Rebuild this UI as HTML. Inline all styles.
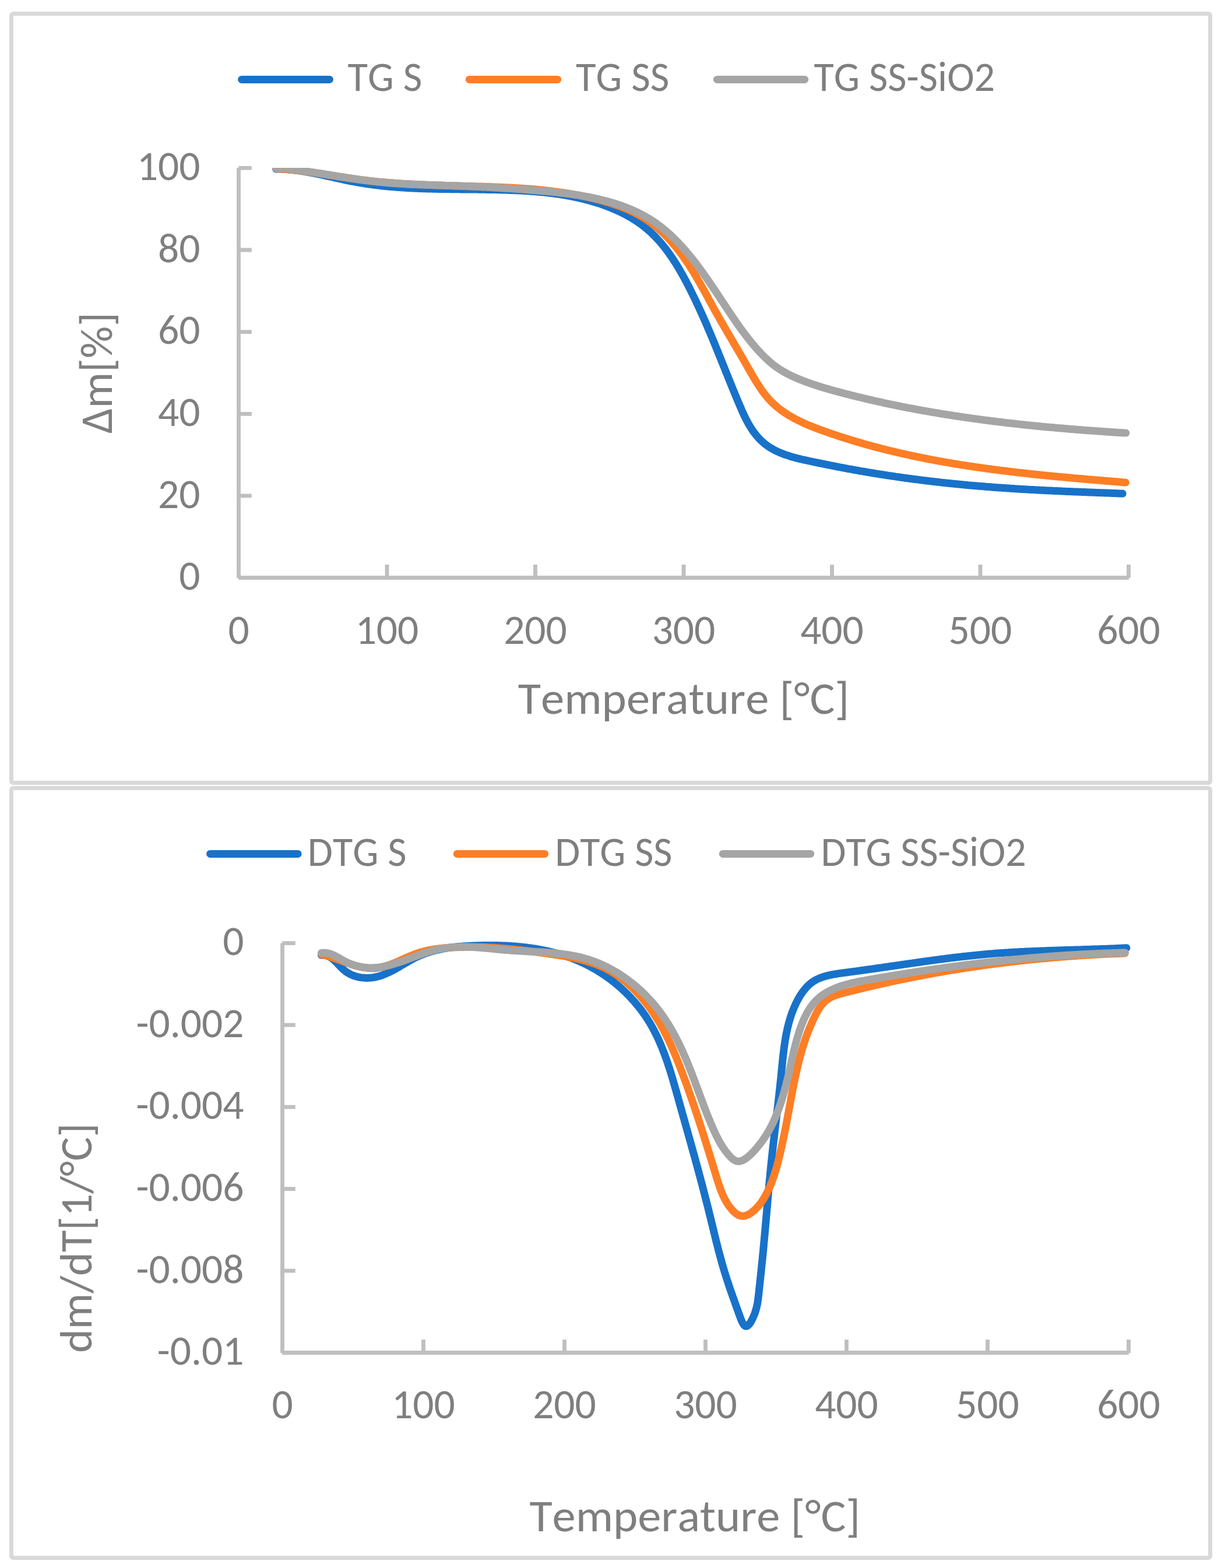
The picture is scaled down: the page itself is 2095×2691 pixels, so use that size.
<!DOCTYPE html>
<html><head><meta charset="utf-8"><title>TG / DTG</title>
<style>html,body{margin:0;padding:0;background:#fff;}svg{display:block;}</style>
</head><body>
<svg width="2095" height="2691" viewBox="0 0 2095 2691" font-family="Carlito, 'Liberation Sans', sans-serif" style="font-kerning:none;font-size-adjust:0.4775">
<defs>
<clipPath id="c1"><rect x="409.5" y="288.0" width="1547.0" height="703.1"/></clipPath>
<clipPath id="c2"><rect x="484.5" y="1588.6" width="1472.0" height="732.9000000000001"/></clipPath>
</defs>
<rect width="2095" height="2691" fill="#fff"/>
<rect x="19.5" y="23.5" width="2057" height="1320" rx="3" fill="none" stroke="#D9D9D9" stroke-width="7"/>
<rect x="19.5" y="1352.5" width="2057" height="1321" rx="3" fill="none" stroke="#D9D9D9" stroke-width="7"/>
<path d="M409.5,288.2 V991.9 M409.1,991.5 H1936.8 M409.1,288.4 H431.8 M409.1,429.0 H431.8 M409.1,569.6 H431.8 M409.1,710.3 H431.8 M409.1,850.9 H431.8 M664.0,991.9 V969.0 M918.5,991.9 V969.0 M1173.0,991.9 V969.0 M1427.5,991.9 V969.0 M1682.0,991.9 V969.0 M1936.5,991.9 V969.0" stroke="#BFBFBF" stroke-width="6.8" fill="none"/>
<path d="M484.5,1618.3999999999999 V2321.9 M484.1,2321.5 H1936.8 M484.1,1618.6 H506.8 M484.1,1759.2 H506.8 M484.1,1899.8 H506.8 M484.1,2040.3 H506.8 M484.1,2180.9 H506.8 M726.5,2321.9 V2299.0 M968.5,2321.9 V2299.0 M1210.5,2321.9 V2299.0 M1452.5,2321.9 V2299.0 M1694.5,2321.9 V2299.0 M1936.5,2321.9 V2299.0" stroke="#BFBFBF" stroke-width="6.8" fill="none"/>
<g fill="none" stroke-width="13" stroke-linecap="round" stroke-linejoin="round">
<path d="M473.4,289.9 L476.0,289.9 L478.5,290.0 L481.0,290.0 L483.5,290.1 L486.0,290.2 L488.5,290.4 L491.0,290.6 L493.5,290.7 L496.0,291.0 L498.5,291.2 L501.0,291.4 L503.4,291.7 L505.9,292.0 L508.4,292.3 L510.9,292.6 L513.3,293.0 L515.8,293.4 L518.3,293.7 L520.8,294.1 L523.2,294.5 L525.7,294.9 L528.1,295.4 L530.6,295.8 L533.1,296.3 L535.5,296.7 L538.0,297.2 L540.4,297.7 L542.9,298.2 L545.3,298.7 L547.8,299.2 L550.2,299.7 L552.7,300.2 L555.1,300.8 L557.5,301.3 L560.0,301.8 L562.4,302.4 L564.9,302.9 L567.3,303.4 L569.8,304.0 L572.2,304.5 L574.6,305.1 L577.1,305.6 L579.5,306.1 L582.0,306.7 L584.4,307.2 L586.9,307.7 L589.3,308.3 L591.8,308.8 L594.2,309.3 L596.7,309.8 L599.1,310.3 L601.5,310.8 L604.0,311.3 L606.4,311.7 L608.9,312.2 L611.4,312.6 L613.8,313.1 L616.3,313.5 L618.7,313.9 L621.2,314.3 L623.6,314.7 L626.1,315.1 L628.6,315.5 L631.0,315.8 L633.5,316.2 L636.0,316.5 L638.4,316.9 L640.9,317.2 L643.4,317.5 L645.9,317.8 L648.3,318.1 L650.8,318.4 L653.3,318.7 L655.8,319.0 L658.2,319.2 L660.7,319.5 L663.2,319.7 L665.7,320.0 L668.2,320.2 L670.6,320.4 L673.1,320.6 L675.6,320.8 L678.1,321.0 L680.6,321.2 L683.1,321.4 L685.6,321.6 L688.0,321.8 L690.5,321.9 L693.0,322.1 L695.5,322.3 L698.0,322.4 L700.5,322.5 L703.0,322.7 L705.5,322.8 L708.0,322.9 L710.5,323.0 L713.0,323.2 L715.5,323.3 L718.0,323.4 L720.5,323.5 L723.0,323.6 L725.5,323.7 L728.0,323.7 L730.5,323.8 L733.0,323.9 L735.5,324.0 L738.0,324.0 L740.5,324.1 L743.0,324.2 L745.5,324.2 L748.0,324.3 L750.5,324.3 L753.0,324.4 L755.5,324.4 L758.0,324.5 L760.5,324.5 L763.0,324.5 L765.5,324.6 L768.0,324.6 L770.5,324.6 L773.0,324.7 L775.5,324.7 L778.0,324.7 L780.6,324.8 L783.1,324.8 L785.6,324.8 L788.1,324.8 L790.6,324.9 L793.1,324.9 L795.6,324.9 L798.1,324.9 L800.6,325.0 L803.1,325.0 L805.6,325.0 L808.1,325.0 L810.6,325.0 L813.1,325.1 L815.6,325.1 L818.1,325.1 L820.7,325.2 L823.2,325.2 L825.7,325.2 L828.2,325.2 L830.7,325.3 L833.2,325.3 L835.7,325.4 L838.2,325.4 L840.7,325.4 L843.2,325.5 L845.7,325.5 L848.2,325.6 L850.7,325.6 L853.2,325.7 L855.7,325.7 L858.2,325.8 L860.7,325.9 L863.2,325.9 L865.7,326.0 L868.2,326.1 L870.7,326.2 L873.2,326.3 L875.7,326.4 L878.2,326.4 L880.6,326.5 L883.1,326.7 L885.6,326.8 L888.1,326.9 L890.6,327.0 L893.1,327.1 L895.6,327.3 L898.1,327.4 L900.6,327.5 L903.1,327.7 L905.5,327.8 L908.0,328.0 L910.5,328.2 L913.0,328.4 L915.5,328.6 L918.0,328.7 L920.4,329.0 L922.9,329.2 L925.4,329.4 L927.9,329.6 L930.3,329.9 L932.8,330.1 L935.3,330.4 L937.8,330.6 L940.2,330.9 L942.7,331.2 L945.2,331.5 L947.6,331.8 L950.1,332.1 L952.6,332.5 L955.0,332.8 L957.5,333.1 L960.0,333.5 L962.4,333.9 L964.9,334.3 L967.3,334.7 L969.8,335.1 L972.2,335.5 L974.7,336.0 L977.2,336.4 L979.6,336.9 L982.1,337.4 L984.5,337.9 L986.9,338.4 L989.4,338.9 L991.8,339.4 L994.3,340.0 L996.7,340.6 L999.2,341.1 L1001.6,341.7 L1004.0,342.4 L1006.5,343.0 L1008.9,343.6 L1011.3,344.3 L1013.8,345.0 L1016.2,345.7 L1018.6,346.4 L1021.0,347.1 L1023.4,347.9 L1025.8,348.6 L1028.3,349.4 L1030.7,350.2 L1033.0,351.0 L1035.4,351.9 L1037.8,352.7 L1040.2,353.6 L1042.5,354.5 L1044.9,355.4 L1047.3,356.3 L1049.6,357.3 L1051.9,358.3 L1054.2,359.2 L1056.5,360.3 L1058.8,361.3 L1061.1,362.3 L1063.4,363.4 L1065.7,364.5 L1067.9,365.6 L1070.2,366.7 L1072.4,367.9 L1074.6,369.1 L1076.8,370.3 L1079.0,371.5 L1081.1,372.7 L1083.3,374.0 L1085.4,375.3 L1087.5,376.6 L1089.6,377.9 L1091.7,379.3 L1093.8,380.7 L1095.8,382.1 L1097.8,383.5 L1099.8,384.9 L1101.8,386.4 L1103.8,387.9 L1105.7,389.4 L1107.6,391.0 L1109.5,392.6 L1111.4,394.1 L1113.3,395.8 L1115.1,397.4 L1116.9,399.1 L1118.7,400.8 L1120.5,402.5 L1122.3,404.2 L1124.0,406.0 L1125.7,407.8 L1127.4,409.6 L1129.1,411.4 L1130.7,413.2 L1132.4,415.1 L1134.0,417.0 L1135.6,418.9 L1137.2,420.8 L1138.7,422.7 L1140.3,424.7 L1141.8,426.6 L1143.3,428.6 L1144.8,430.6 L1146.3,432.6 L1147.8,434.6 L1149.2,436.7 L1150.6,438.7 L1152.1,440.8 L1153.5,442.9 L1154.9,445.0 L1156.2,447.1 L1157.6,449.2 L1159.0,451.3 L1160.3,453.5 L1161.6,455.6 L1162.9,457.8 L1164.2,459.9 L1165.5,462.1 L1166.8,464.3 L1168.0,466.5 L1169.3,468.7 L1170.5,470.9 L1171.8,473.1 L1173.0,475.3 L1174.2,477.5 L1175.4,479.8 L1176.6,482.0 L1177.8,484.2 L1178.9,486.5 L1180.1,488.7 L1181.3,490.9 L1182.4,493.2 L1183.6,495.4 L1184.7,497.7 L1185.8,499.9 L1186.9,502.2 L1188.0,504.4 L1189.1,506.7 L1190.2,508.9 L1191.3,511.2 L1192.4,513.4 L1193.5,515.7 L1194.6,518.0 L1195.6,520.2 L1196.7,522.5 L1197.8,524.7 L1198.8,527.0 L1199.8,529.3 L1200.9,531.5 L1201.9,533.8 L1202.9,536.0 L1204.0,538.3 L1205.0,540.6 L1206.0,542.8 L1207.0,545.1 L1208.0,547.4 L1209.0,549.7 L1210.0,551.9 L1211.0,554.2 L1212.0,556.5 L1213.0,558.7 L1213.9,561.0 L1214.9,563.3 L1215.9,565.6 L1216.9,567.9 L1217.8,570.1 L1218.8,572.4 L1219.7,574.7 L1220.7,577.0 L1221.7,579.3 L1222.6,581.6 L1223.6,583.9 L1224.5,586.1 L1225.4,588.4 L1226.4,590.7 L1227.3,593.0 L1228.3,595.3 L1229.2,597.6 L1230.1,599.9 L1231.1,602.2 L1232.0,604.5 L1233.0,606.8 L1233.9,609.1 L1234.8,611.4 L1235.7,613.7 L1236.7,616.0 L1237.6,618.3 L1238.5,620.6 L1239.5,622.9 L1240.4,625.3 L1241.3,627.6 L1242.3,629.9 L1243.2,632.2 L1244.1,634.5 L1245.0,636.8 L1246.0,639.2 L1246.9,641.5 L1247.9,643.8 L1248.8,646.1 L1249.7,648.4 L1250.7,650.8 L1251.6,653.1 L1252.5,655.4 L1253.5,657.8 L1254.4,660.1 L1255.4,662.4 L1256.3,664.8 L1257.3,667.1 L1258.2,669.4 L1259.2,671.8 L1260.2,674.1 L1261.1,676.5 L1262.1,678.8 L1263.1,681.1 L1264.0,683.5 L1265.0,685.8 L1266.0,688.2 L1267.0,690.5 L1268.0,692.9 L1269.0,695.2 L1270.0,697.6 L1271.0,699.9 L1272.0,702.3 L1273.0,704.6 L1274.1,707.0 L1275.1,709.3 L1276.2,711.6 L1277.3,713.9 L1278.4,716.2 L1279.5,718.4 L1280.7,720.7 L1281.8,722.9 L1283.0,725.1 L1284.2,727.3 L1285.5,729.5 L1286.8,731.6 L1288.1,733.7 L1289.4,735.8 L1290.8,737.9 L1292.2,739.9 L1293.6,741.9 L1295.1,743.9 L1296.6,745.8 L1298.1,747.7 L1299.7,749.5 L1301.3,751.4 L1303.0,753.1 L1304.7,754.9 L1306.4,756.5 L1308.2,758.2 L1310.0,759.8 L1311.8,761.3 L1313.7,762.8 L1315.6,764.3 L1317.6,765.7 L1319.6,767.0 L1321.6,768.3 L1323.7,769.5 L1325.8,770.7 L1327.9,771.9 L1330.0,773.0 L1332.2,774.1 L1334.4,775.1 L1336.7,776.1 L1338.9,777.1 L1341.2,778.0 L1343.5,778.9 L1345.9,779.8 L1348.2,780.6 L1350.6,781.4 L1353.0,782.2 L1355.4,783.0 L1357.8,783.7 L1360.2,784.4 L1362.7,785.1 L1365.1,785.7 L1367.6,786.4 L1370.0,787.0 L1372.5,787.6 L1375.0,788.2 L1377.5,788.8 L1380.0,789.3 L1382.5,789.9 L1385.0,790.4 L1387.5,791.0 L1390.0,791.5 L1392.5,792.0 L1395.0,792.6 L1397.5,793.1 L1400.0,793.6 L1402.5,794.1 L1404.9,794.6 L1407.4,795.2 L1409.9,795.7 L1412.4,796.2 L1414.9,796.7 L1417.3,797.2 L1419.8,797.7 L1422.3,798.2 L1424.7,798.7 L1427.2,799.1 L1429.7,799.6 L1432.1,800.1 L1434.6,800.6 L1437.0,801.1 L1439.5,801.5 L1441.9,802.0 L1444.4,802.5 L1446.8,802.9 L1449.3,803.4 L1451.7,803.8 L1454.2,804.3 L1456.6,804.8 L1459.1,805.2 L1461.5,805.6 L1464.0,806.1 L1466.4,806.5 L1468.8,807.0 L1471.3,807.4 L1473.7,807.8 L1476.2,808.3 L1478.6,808.7 L1481.1,809.1 L1483.5,809.5 L1485.9,809.9 L1488.4,810.4 L1490.8,810.8 L1493.3,811.2 L1495.7,811.6 L1498.2,812.0 L1500.6,812.4 L1503.1,812.8 L1505.5,813.2 L1508.0,813.6 L1510.4,814.0 L1512.9,814.3 L1515.3,814.7 L1517.8,815.1 L1520.2,815.5 L1522.7,815.9 L1525.1,816.2 L1527.6,816.6 L1530.1,817.0 L1532.5,817.3 L1535.0,817.7 L1537.4,818.1 L1539.9,818.4 L1542.4,818.8 L1544.8,819.1 L1547.3,819.5 L1549.8,819.8 L1552.3,820.2 L1554.7,820.5 L1557.2,820.8 L1559.7,821.2 L1562.2,821.5 L1564.6,821.8 L1567.1,822.2 L1569.6,822.5 L1572.1,822.8 L1574.5,823.1 L1577.0,823.4 L1579.5,823.8 L1582.0,824.1 L1584.5,824.4 L1587.0,824.7 L1589.4,825.0 L1591.9,825.3 L1594.4,825.6 L1596.9,825.9 L1599.4,826.2 L1601.9,826.5 L1604.4,826.8 L1606.9,827.0 L1609.4,827.3 L1611.8,827.6 L1614.3,827.9 L1616.8,828.2 L1619.3,828.4 L1621.8,828.7 L1624.3,829.0 L1626.8,829.2 L1629.3,829.5 L1631.8,829.8 L1634.3,830.0 L1636.8,830.3 L1639.3,830.5 L1641.8,830.8 L1644.3,831.0 L1646.8,831.3 L1649.3,831.5 L1651.7,831.7 L1654.2,832.0 L1656.7,832.2 L1659.2,832.4 L1661.7,832.7 L1664.2,832.9 L1666.7,833.1 L1669.2,833.4 L1671.7,833.6 L1674.2,833.8 L1676.7,834.0 L1679.2,834.2 L1681.7,834.4 L1684.2,834.6 L1686.7,834.8 L1689.2,835.0 L1691.7,835.2 L1694.2,835.4 L1696.7,835.6 L1699.2,835.8 L1701.7,836.0 L1704.1,836.2 L1706.6,836.4 L1709.1,836.6 L1711.6,836.7 L1714.1,836.9 L1716.6,837.1 L1719.1,837.3 L1721.6,837.5 L1724.1,837.6 L1726.6,837.8 L1729.1,838.0 L1731.6,838.1 L1734.1,838.3 L1736.6,838.4 L1739.0,838.6 L1741.5,838.8 L1744.0,838.9 L1746.5,839.1 L1749.0,839.2 L1751.5,839.4 L1754.0,839.5 L1756.5,839.7 L1759.0,839.8 L1761.5,839.9 L1764.0,840.1 L1766.5,840.2 L1768.9,840.4 L1771.4,840.5 L1773.9,840.6 L1776.4,840.8 L1778.9,840.9 L1781.4,841.0 L1783.9,841.2 L1786.4,841.3 L1788.9,841.4 L1791.4,841.5 L1793.9,841.7 L1796.4,841.8 L1798.8,841.9 L1801.3,842.0 L1803.8,842.1 L1806.3,842.3 L1808.8,842.4 L1811.3,842.5 L1813.8,842.6 L1816.3,842.7 L1818.8,842.8 L1821.3,842.9 L1823.8,843.1 L1826.3,843.2 L1828.8,843.3 L1831.3,843.4 L1833.7,843.5 L1836.2,843.6 L1838.7,843.7 L1841.2,843.8 L1843.7,843.9 L1846.2,844.0 L1848.7,844.1 L1851.2,844.2 L1853.7,844.3 L1856.2,844.4 L1858.7,844.5 L1861.2,844.6 L1863.7,844.7 L1866.2,844.8 L1868.7,844.9 L1871.2,845.0 L1873.7,845.1 L1876.2,845.2 L1878.7,845.3 L1881.2,845.4 L1883.7,845.5 L1886.2,845.6 L1888.7,845.7 L1891.2,845.8 L1893.7,845.8 L1896.2,845.9 L1898.7,846.0 L1901.2,846.1 L1903.7,846.2 L1906.2,846.3 L1908.7,846.4 L1911.2,846.5 L1913.7,846.6 L1916.2,846.7 L1918.7,846.8 L1921.2,846.9 L1923.7,847.0 L1926.2,847.1" stroke="#1872C9" clip-path="url(#c1)"/>
<path d="M473.5,289.2 L476.0,289.4 L478.5,289.5 L481.0,289.7 L483.5,289.9 L486.0,290.1 L488.4,290.3 L490.9,290.5 L493.4,290.7 L495.9,290.9 L498.4,291.2 L500.9,291.4 L503.4,291.7 L505.9,292.0 L508.3,292.3 L510.8,292.6 L513.3,292.9 L515.8,293.2 L518.3,293.5 L520.7,293.8 L523.2,294.1 L525.7,294.5 L528.2,294.8 L530.6,295.2 L533.1,295.5 L535.6,295.9 L538.1,296.2 L540.5,296.6 L543.0,297.0 L545.5,297.4 L547.9,297.7 L550.4,298.1 L552.9,298.5 L555.4,298.9 L557.8,299.3 L560.3,299.7 L562.8,300.1 L565.2,300.5 L567.7,300.9 L570.2,301.3 L572.6,301.6 L575.1,302.0 L577.6,302.4 L580.0,302.8 L582.5,303.2 L585.0,303.6 L587.4,304.0 L589.9,304.4 L592.4,304.7 L594.9,305.1 L597.3,305.5 L599.8,305.8 L602.3,306.2 L604.7,306.6 L607.2,306.9 L609.7,307.3 L612.1,307.6 L614.6,307.9 L617.1,308.3 L619.6,308.6 L622.0,308.9 L624.5,309.2 L627.0,309.5 L629.5,309.8 L632.0,310.1 L634.4,310.4 L636.9,310.6 L639.4,310.9 L641.9,311.2 L644.3,311.4 L646.8,311.7 L649.3,311.9 L651.8,312.2 L654.3,312.4 L656.8,312.6 L659.2,312.8 L661.7,313.0 L664.2,313.2 L666.7,313.5 L669.2,313.7 L671.7,313.8 L674.2,314.0 L676.7,314.2 L679.1,314.4 L681.6,314.6 L684.1,314.7 L686.6,314.9 L689.1,315.1 L691.6,315.2 L694.1,315.4 L696.6,315.5 L699.1,315.7 L701.6,315.8 L704.0,315.9 L706.5,316.1 L709.0,316.2 L711.5,316.3 L714.0,316.5 L716.5,316.6 L719.0,316.7 L721.5,316.8 L724.0,316.9 L726.5,317.0 L729.0,317.1 L731.5,317.2 L734.0,317.3 L736.5,317.4 L739.0,317.5 L741.5,317.6 L744.0,317.7 L746.5,317.8 L749.0,317.9 L751.5,318.0 L754.0,318.0 L756.5,318.1 L759.0,318.2 L761.5,318.3 L764.0,318.4 L766.5,318.4 L769.0,318.5 L771.5,318.6 L774.0,318.7 L776.5,318.7 L779.0,318.8 L781.5,318.9 L784.0,319.0 L786.5,319.0 L789.0,319.1 L791.5,319.2 L794.0,319.2 L796.5,319.3 L799.0,319.4 L801.5,319.4 L804.0,319.5 L806.5,319.6 L809.0,319.7 L811.5,319.7 L814.0,319.8 L816.5,319.9 L819.0,319.9 L821.5,320.0 L824.0,320.1 L826.5,320.2 L829.0,320.3 L831.5,320.3 L834.0,320.4 L836.5,320.5 L838.9,320.6 L841.4,320.7 L843.9,320.8 L846.4,320.9 L848.9,321.0 L851.4,321.1 L853.9,321.2 L856.4,321.3 L858.9,321.4 L861.4,321.5 L863.9,321.6 L866.4,321.7 L868.9,321.8 L871.4,321.9 L873.9,322.1 L876.4,322.2 L878.9,322.3 L881.4,322.5 L883.9,322.6 L886.4,322.8 L888.9,322.9 L891.4,323.1 L893.8,323.2 L896.3,323.4 L898.8,323.6 L901.3,323.7 L903.8,323.9 L906.3,324.1 L908.8,324.3 L911.3,324.5 L913.8,324.7 L916.2,324.9 L918.7,325.1 L921.2,325.4 L923.7,325.6 L926.2,325.8 L928.7,326.1 L931.1,326.3 L933.6,326.6 L936.1,326.8 L938.6,327.1 L941.1,327.4 L943.5,327.7 L946.0,328.0 L948.5,328.3 L951.0,328.6 L953.4,328.9 L955.9,329.2 L958.4,329.6 L960.9,329.9 L963.3,330.3 L965.8,330.6 L968.3,331.0 L970.7,331.4 L973.2,331.7 L975.7,332.1 L978.1,332.6 L980.6,333.0 L983.1,333.4 L985.5,333.8 L988.0,334.3 L990.5,334.7 L992.9,335.2 L995.4,335.7 L997.8,336.1 L1000.3,336.6 L1002.7,337.2 L1005.2,337.7 L1007.6,338.2 L1010.1,338.7 L1012.5,339.3 L1015.0,339.9 L1017.4,340.4 L1019.9,341.0 L1022.3,341.6 L1024.8,342.2 L1027.2,342.8 L1029.6,343.5 L1032.1,344.1 L1034.5,344.8 L1036.9,345.5 L1039.3,346.2 L1041.8,346.9 L1044.2,347.6 L1046.6,348.3 L1049.0,349.1 L1051.4,349.9 L1053.7,350.7 L1056.1,351.5 L1058.5,352.3 L1060.8,353.2 L1063.2,354.0 L1065.5,354.9 L1067.9,355.8 L1070.2,356.7 L1072.5,357.7 L1074.8,358.6 L1077.1,359.6 L1079.4,360.6 L1081.6,361.7 L1083.9,362.7 L1086.1,363.8 L1088.3,364.9 L1090.5,366.0 L1092.7,367.2 L1094.9,368.4 L1097.1,369.6 L1099.2,370.8 L1101.4,372.0 L1103.5,373.3 L1105.6,374.6 L1107.7,375.9 L1109.7,377.3 L1111.8,378.7 L1113.8,380.1 L1115.8,381.5 L1117.8,383.0 L1119.8,384.5 L1121.7,386.0 L1123.7,387.6 L1125.6,389.1 L1127.5,390.7 L1129.4,392.4 L1131.3,394.0 L1133.1,395.7 L1134.9,397.4 L1136.8,399.1 L1138.6,400.8 L1140.4,402.5 L1142.1,404.3 L1143.9,406.1 L1145.6,407.9 L1147.3,409.7 L1149.0,411.6 L1150.7,413.4 L1152.4,415.3 L1154.0,417.2 L1155.7,419.1 L1157.3,421.0 L1158.9,423.0 L1160.5,424.9 L1162.1,426.9 L1163.6,428.9 L1165.2,430.9 L1166.7,432.9 L1168.2,434.9 L1169.7,436.9 L1171.2,439.0 L1172.7,441.0 L1174.1,443.1 L1175.6,445.2 L1177.0,447.2 L1178.4,449.3 L1179.8,451.4 L1181.2,453.5 L1182.6,455.6 L1184.0,457.8 L1185.3,459.9 L1186.7,462.0 L1188.0,464.1 L1189.3,466.3 L1190.6,468.4 L1191.9,470.6 L1193.2,472.7 L1194.5,474.9 L1195.7,477.0 L1197.0,479.2 L1198.2,481.4 L1199.5,483.5 L1200.7,485.7 L1202.0,487.9 L1203.2,490.1 L1204.4,492.2 L1205.6,494.4 L1206.8,496.6 L1208.1,498.8 L1209.3,501.0 L1210.5,503.2 L1211.7,505.4 L1212.9,507.5 L1214.1,509.7 L1215.2,511.9 L1216.4,514.1 L1217.6,516.3 L1218.8,518.5 L1220.0,520.7 L1221.2,522.8 L1222.4,525.0 L1223.6,527.2 L1224.8,529.4 L1226.0,531.5 L1227.2,533.7 L1228.4,535.9 L1229.6,538.0 L1230.8,540.2 L1232.1,542.3 L1233.3,544.5 L1234.5,546.6 L1235.7,548.8 L1236.9,550.9 L1238.2,553.1 L1239.4,555.2 L1240.6,557.4 L1241.9,559.5 L1243.1,561.7 L1244.4,563.8 L1245.6,565.9 L1246.8,568.1 L1248.1,570.2 L1249.3,572.4 L1250.6,574.5 L1251.8,576.6 L1253.1,578.8 L1254.4,580.9 L1255.6,583.1 L1256.9,585.2 L1258.1,587.4 L1259.4,589.5 L1260.6,591.7 L1261.9,593.8 L1263.2,596.0 L1264.4,598.1 L1265.7,600.3 L1267.0,602.5 L1268.2,604.6 L1269.5,606.8 L1270.8,609.0 L1272.0,611.2 L1273.3,613.3 L1274.6,615.5 L1275.8,617.7 L1277.1,619.9 L1278.4,622.1 L1279.6,624.3 L1280.9,626.5 L1282.2,628.7 L1283.4,630.9 L1284.7,633.2 L1286.0,635.4 L1287.2,637.6 L1288.5,639.8 L1289.8,642.1 L1291.1,644.3 L1292.4,646.5 L1293.7,648.7 L1295.0,650.9 L1296.3,653.1 L1297.6,655.3 L1299.0,657.4 L1300.4,659.6 L1301.7,661.7 L1303.1,663.8 L1304.5,665.9 L1306.0,668.0 L1307.4,670.1 L1308.9,672.1 L1310.4,674.1 L1311.9,676.1 L1313.4,678.1 L1315.0,680.0 L1316.6,681.9 L1318.2,683.7 L1319.8,685.6 L1321.5,687.4 L1323.2,689.1 L1324.9,690.8 L1326.7,692.5 L1328.5,694.2 L1330.3,695.8 L1332.1,697.4 L1334.0,699.0 L1335.9,700.5 L1337.8,702.0 L1339.7,703.5 L1341.7,704.9 L1343.7,706.3 L1345.7,707.7 L1347.7,709.0 L1349.8,710.4 L1351.8,711.7 L1353.9,713.0 L1356.0,714.2 L1358.1,715.4 L1360.3,716.6 L1362.4,717.8 L1364.6,719.0 L1366.8,720.1 L1369.0,721.3 L1371.2,722.4 L1373.5,723.4 L1375.7,724.5 L1378.0,725.6 L1380.2,726.6 L1382.5,727.6 L1384.8,728.6 L1387.1,729.6 L1389.4,730.5 L1391.7,731.5 L1394.1,732.4 L1396.4,733.3 L1398.7,734.3 L1401.1,735.2 L1403.5,736.1 L1405.8,736.9 L1408.2,737.8 L1410.5,738.7 L1412.9,739.5 L1415.3,740.4 L1417.7,741.2 L1420.1,742.0 L1422.4,742.9 L1424.8,743.7 L1427.2,744.5 L1429.6,745.3 L1432.0,746.1 L1434.4,746.9 L1436.7,747.7 L1439.1,748.5 L1441.5,749.3 L1443.9,750.1 L1446.3,750.8 L1448.7,751.6 L1451.1,752.3 L1453.5,753.1 L1455.9,753.8 L1458.3,754.6 L1460.7,755.3 L1463.1,756.1 L1465.5,756.8 L1467.9,757.5 L1470.3,758.2 L1472.7,758.9 L1475.1,759.6 L1477.5,760.3 L1479.9,761.0 L1482.3,761.7 L1484.7,762.4 L1487.1,763.1 L1489.6,763.7 L1492.0,764.4 L1494.4,765.0 L1496.8,765.7 L1499.2,766.4 L1501.6,767.0 L1504.0,767.6 L1506.5,768.3 L1508.9,768.9 L1511.3,769.5 L1513.7,770.2 L1516.2,770.8 L1518.6,771.4 L1521.0,772.0 L1523.4,772.6 L1525.9,773.2 L1528.3,773.8 L1530.7,774.4 L1533.1,774.9 L1535.6,775.5 L1538.0,776.1 L1540.4,776.7 L1542.9,777.2 L1545.3,777.8 L1547.7,778.3 L1550.2,778.9 L1552.6,779.4 L1555.0,780.0 L1557.5,780.5 L1559.9,781.0 L1562.4,781.6 L1564.8,782.1 L1567.2,782.6 L1569.7,783.1 L1572.1,783.6 L1574.6,784.2 L1577.0,784.7 L1579.5,785.2 L1581.9,785.6 L1584.4,786.1 L1586.8,786.6 L1589.2,787.1 L1591.7,787.6 L1594.1,788.1 L1596.6,788.5 L1599.0,789.0 L1601.5,789.5 L1604.0,789.9 L1606.4,790.4 L1608.9,790.8 L1611.3,791.3 L1613.8,791.7 L1616.2,792.2 L1618.7,792.6 L1621.1,793.0 L1623.6,793.5 L1626.1,793.9 L1628.5,794.3 L1631.0,794.7 L1633.4,795.1 L1635.9,795.6 L1638.4,796.0 L1640.8,796.4 L1643.3,796.8 L1645.7,797.2 L1648.2,797.6 L1650.7,797.9 L1653.1,798.3 L1655.6,798.7 L1658.1,799.1 L1660.5,799.5 L1663.0,799.9 L1665.5,800.2 L1668.0,800.6 L1670.4,801.0 L1672.9,801.3 L1675.4,801.7 L1677.8,802.0 L1680.3,802.4 L1682.8,802.8 L1685.2,803.1 L1687.7,803.4 L1690.2,803.8 L1692.7,804.1 L1695.1,804.5 L1697.6,804.8 L1700.1,805.1 L1702.6,805.5 L1705.0,805.8 L1707.5,806.1 L1710.0,806.4 L1712.5,806.7 L1715.0,807.1 L1717.4,807.4 L1719.9,807.7 L1722.4,808.0 L1724.9,808.3 L1727.4,808.6 L1729.8,808.9 L1732.3,809.2 L1734.8,809.5 L1737.3,809.8 L1739.8,810.1 L1742.2,810.4 L1744.7,810.7 L1747.2,811.0 L1749.7,811.2 L1752.2,811.5 L1754.7,811.8 L1757.1,812.1 L1759.6,812.3 L1762.1,812.6 L1764.6,812.9 L1767.1,813.2 L1769.6,813.4 L1772.1,813.7 L1774.5,814.0 L1777.0,814.2 L1779.5,814.5 L1782.0,814.7 L1784.5,815.0 L1787.0,815.2 L1789.5,815.5 L1791.9,815.7 L1794.4,816.0 L1796.9,816.2 L1799.4,816.5 L1801.9,816.7 L1804.4,817.0 L1806.9,817.2 L1809.4,817.5 L1811.9,817.7 L1814.3,817.9 L1816.8,818.2 L1819.3,818.4 L1821.8,818.6 L1824.3,818.9 L1826.8,819.1 L1829.3,819.3 L1831.8,819.6 L1834.3,819.8 L1836.8,820.0 L1839.2,820.2 L1841.7,820.5 L1844.2,820.7 L1846.7,820.9 L1849.2,821.1 L1851.7,821.4 L1854.2,821.6 L1856.7,821.8 L1859.2,822.0 L1861.7,822.2 L1864.2,822.4 L1866.6,822.7 L1869.1,822.9 L1871.6,823.1 L1874.1,823.3 L1876.6,823.5 L1879.1,823.7 L1881.6,823.9 L1884.1,824.1 L1886.6,824.4 L1889.1,824.6 L1891.6,824.8 L1894.0,825.0 L1896.5,825.2 L1899.0,825.4 L1901.5,825.6 L1904.0,825.8 L1906.5,826.0 L1909.0,826.2 L1911.5,826.4 L1914.0,826.6 L1916.5,826.8 L1918.9,827.0 L1921.4,827.2 L1923.9,827.5 L1926.4,827.7 L1928.9,827.9 L1931.4,828.1" stroke="#FE7E25" clip-path="url(#c1)"/>
<path d="M473.2,288.0 L475.7,288.2 L478.2,288.4 L480.7,288.6 L483.2,288.8 L485.7,289.1 L488.2,289.3 L490.6,289.6 L493.1,289.9 L495.6,290.1 L498.1,290.4 L500.6,290.7 L503.1,291.0 L505.5,291.3 L508.0,291.6 L510.5,291.9 L513.0,292.3 L515.4,292.6 L517.9,292.9 L520.4,293.3 L522.8,293.6 L525.3,294.0 L527.8,294.3 L530.2,294.7 L532.7,295.1 L535.2,295.4 L537.6,295.8 L540.1,296.2 L542.5,296.6 L545.0,296.9 L547.4,297.3 L549.9,297.7 L552.3,298.1 L554.8,298.5 L557.3,298.9 L559.7,299.3 L562.2,299.7 L564.6,300.1 L567.1,300.5 L569.5,300.9 L572.0,301.3 L574.4,301.7 L576.9,302.1 L579.3,302.5 L581.8,302.9 L584.2,303.2 L586.7,303.6 L589.1,304.0 L591.6,304.4 L594.1,304.8 L596.5,305.2 L599.0,305.6 L601.4,305.9 L603.9,306.3 L606.3,306.7 L608.8,307.0 L611.3,307.4 L613.7,307.8 L616.2,308.1 L618.7,308.5 L621.1,308.8 L623.6,309.1 L626.1,309.5 L628.6,309.8 L631.0,310.1 L633.5,310.4 L636.0,310.7 L638.5,311.0 L640.9,311.3 L643.4,311.6 L645.9,311.9 L648.4,312.1 L650.9,312.4 L653.4,312.6 L655.9,312.9 L658.4,313.1 L660.9,313.3 L663.4,313.5 L665.9,313.7 L668.4,313.9 L670.9,314.1 L673.4,314.3 L675.9,314.5 L678.4,314.7 L680.9,314.9 L683.5,315.0 L686.0,315.2 L688.5,315.3 L691.0,315.5 L693.5,315.6 L696.0,315.8 L698.6,315.9 L701.1,316.0 L703.6,316.2 L706.1,316.3 L708.6,316.4 L711.1,316.5 L713.7,316.6 L716.2,316.7 L718.7,316.8 L721.2,316.9 L723.7,317.0 L726.3,317.1 L728.8,317.2 L731.3,317.3 L733.8,317.4 L736.3,317.5 L738.8,317.6 L741.3,317.6 L743.8,317.7 L746.3,317.8 L748.9,317.9 L751.4,318.0 L753.9,318.0 L756.4,318.1 L758.9,318.2 L761.4,318.3 L763.9,318.4 L766.3,318.4 L768.8,318.5 L771.3,318.6 L773.8,318.7 L776.3,318.8 L778.8,318.9 L781.3,318.9 L783.7,319.0 L786.2,319.1 L788.7,319.2 L791.1,319.3 L793.6,319.4 L796.1,319.5 L798.6,319.6 L801.0,319.7 L803.5,319.8 L805.9,319.9 L808.4,320.0 L810.9,320.1 L813.3,320.2 L815.8,320.3 L818.2,320.4 L820.7,320.5 L823.2,320.6 L825.6,320.8 L828.1,320.9 L830.5,321.0 L833.0,321.1 L835.4,321.2 L837.9,321.4 L840.3,321.5 L842.8,321.6 L845.3,321.7 L847.7,321.9 L850.2,322.0 L852.6,322.1 L855.1,322.3 L857.5,322.4 L860.0,322.6 L862.5,322.7 L864.9,322.9 L867.4,323.0 L869.9,323.2 L872.3,323.3 L874.8,323.5 L877.3,323.6 L879.7,323.8 L882.2,324.0 L884.7,324.1 L887.1,324.3 L889.6,324.5 L892.1,324.6 L894.6,324.8 L897.1,325.0 L899.6,325.2 L902.0,325.4 L904.5,325.6 L907.0,325.8 L909.5,326.0 L912.0,326.2 L914.5,326.4 L917.0,326.6 L919.5,326.8 L922.0,327.0 L924.6,327.2 L927.1,327.4 L929.6,327.6 L932.1,327.9 L934.6,328.1 L937.2,328.3 L939.7,328.6 L942.2,328.8 L944.8,329.1 L947.3,329.3 L949.8,329.6 L952.4,329.8 L954.9,330.1 L957.4,330.4 L960.0,330.7 L962.5,331.0 L965.0,331.3 L967.6,331.6 L970.1,331.9 L972.6,332.2 L975.2,332.6 L977.7,332.9 L980.2,333.2 L982.8,333.6 L985.3,334.0 L987.8,334.3 L990.3,334.7 L992.8,335.1 L995.3,335.5 L997.9,336.0 L1000.4,336.4 L1002.9,336.8 L1005.4,337.3 L1007.9,337.7 L1010.4,338.2 L1012.8,338.7 L1015.3,339.2 L1017.8,339.7 L1020.3,340.2 L1022.8,340.8 L1025.2,341.3 L1027.7,341.9 L1030.1,342.5 L1032.6,343.0 L1035.0,343.7 L1037.4,344.3 L1039.9,344.9 L1042.3,345.6 L1044.7,346.2 L1047.1,346.9 L1049.5,347.6 L1051.9,348.3 L1054.2,349.0 L1056.6,349.8 L1059.0,350.5 L1061.3,351.3 L1063.7,352.1 L1066.0,352.9 L1068.3,353.8 L1070.6,354.6 L1073.0,355.5 L1075.2,356.4 L1077.5,357.3 L1079.8,358.2 L1082.1,359.1 L1084.3,360.1 L1086.6,361.1 L1088.8,362.1 L1091.0,363.1 L1093.2,364.2 L1095.4,365.2 L1097.6,366.3 L1099.8,367.4 L1101.9,368.6 L1104.1,369.7 L1106.2,370.9 L1108.3,372.1 L1110.4,373.3 L1112.5,374.5 L1114.6,375.8 L1116.6,377.1 L1118.7,378.4 L1120.7,379.7 L1122.7,381.1 L1124.7,382.5 L1126.7,383.9 L1128.7,385.3 L1130.6,386.8 L1132.6,388.2 L1134.5,389.7 L1136.4,391.2 L1138.3,392.8 L1140.2,394.3 L1142.1,395.9 L1144.0,397.5 L1145.8,399.1 L1147.7,400.8 L1149.5,402.4 L1151.3,404.1 L1153.1,405.8 L1154.9,407.5 L1156.7,409.3 L1158.4,411.0 L1160.2,412.8 L1161.9,414.5 L1163.6,416.3 L1165.4,418.2 L1167.1,420.0 L1168.8,421.8 L1170.5,423.7 L1172.1,425.5 L1173.8,427.4 L1175.5,429.3 L1177.1,431.2 L1178.7,433.2 L1180.4,435.1 L1182.0,437.0 L1183.6,439.0 L1185.2,441.0 L1186.8,442.9 L1188.4,444.9 L1189.9,446.9 L1191.5,448.9 L1193.1,450.9 L1194.6,453.0 L1196.2,455.0 L1197.7,457.0 L1199.2,459.1 L1200.7,461.1 L1202.3,463.2 L1203.8,465.3 L1205.3,467.4 L1206.8,469.4 L1208.2,471.5 L1209.7,473.6 L1211.2,475.7 L1212.7,477.8 L1214.1,479.9 L1215.6,482.0 L1217.0,484.1 L1218.5,486.2 L1219.9,488.4 L1221.4,490.5 L1222.8,492.6 L1224.2,494.7 L1225.7,496.8 L1227.1,498.9 L1228.5,501.1 L1229.9,503.2 L1231.3,505.3 L1232.7,507.4 L1234.1,509.5 L1235.5,511.7 L1236.9,513.8 L1238.3,515.9 L1239.7,518.0 L1241.1,520.1 L1242.5,522.2 L1243.9,524.3 L1245.3,526.4 L1246.6,528.5 L1248.0,530.5 L1249.4,532.6 L1250.8,534.7 L1252.2,536.7 L1253.5,538.8 L1254.9,540.8 L1256.3,542.9 L1257.7,544.9 L1259.1,547.0 L1260.5,549.0 L1261.9,551.0 L1263.2,553.0 L1264.6,555.0 L1266.0,557.0 L1267.5,559.0 L1268.9,561.0 L1270.3,563.0 L1271.7,565.0 L1273.2,567.0 L1274.6,568.9 L1276.1,570.9 L1277.5,572.8 L1279.0,574.8 L1280.5,576.7 L1282.0,578.7 L1283.5,580.6 L1285.0,582.5 L1286.5,584.4 L1288.1,586.3 L1289.6,588.2 L1291.2,590.1 L1292.8,592.0 L1294.4,593.9 L1296.0,595.8 L1297.6,597.6 L1299.3,599.5 L1301.0,601.4 L1302.6,603.2 L1304.4,605.0 L1306.1,606.9 L1307.8,608.7 L1309.6,610.5 L1311.3,612.2 L1313.1,614.0 L1315.0,615.7 L1316.8,617.4 L1318.7,619.1 L1320.5,620.8 L1322.4,622.4 L1324.4,624.0 L1326.3,625.6 L1328.3,627.1 L1330.3,628.6 L1332.3,630.1 L1334.3,631.5 L1336.4,632.9 L1338.5,634.2 L1340.6,635.5 L1342.7,636.8 L1344.8,638.1 L1347.0,639.3 L1349.1,640.5 L1351.3,641.6 L1353.5,642.8 L1355.8,643.9 L1358.0,645.0 L1360.2,646.0 L1362.5,647.0 L1364.8,648.1 L1367.1,649.0 L1369.4,650.0 L1371.7,651.0 L1374.0,651.9 L1376.3,652.8 L1378.6,653.7 L1381.0,654.6 L1383.3,655.5 L1385.6,656.3 L1388.0,657.2 L1390.4,658.0 L1392.7,658.8 L1395.1,659.6 L1397.4,660.4 L1399.8,661.2 L1402.2,662.0 L1404.6,662.7 L1407.0,663.5 L1409.4,664.2 L1411.8,664.9 L1414.1,665.7 L1416.5,666.4 L1418.9,667.1 L1421.4,667.8 L1423.8,668.5 L1426.2,669.2 L1428.6,669.8 L1431.0,670.5 L1433.4,671.2 L1435.8,671.8 L1438.2,672.5 L1440.7,673.1 L1443.1,673.8 L1445.5,674.4 L1447.9,675.0 L1450.4,675.7 L1452.8,676.3 L1455.2,676.9 L1457.6,677.5 L1460.1,678.1 L1462.5,678.7 L1464.9,679.4 L1467.3,680.0 L1469.8,680.6 L1472.2,681.2 L1474.6,681.7 L1477.1,682.3 L1479.5,682.9 L1481.9,683.5 L1484.4,684.1 L1486.8,684.7 L1489.2,685.2 L1491.7,685.8 L1494.1,686.3 L1496.5,686.9 L1499.0,687.5 L1501.4,688.0 L1503.8,688.6 L1506.3,689.1 L1508.7,689.7 L1511.2,690.2 L1513.6,690.7 L1516.0,691.3 L1518.5,691.8 L1520.9,692.3 L1523.4,692.8 L1525.8,693.4 L1528.3,693.9 L1530.7,694.4 L1533.1,694.9 L1535.6,695.4 L1538.0,695.9 L1540.5,696.4 L1542.9,696.9 L1545.4,697.4 L1547.8,697.9 L1550.3,698.3 L1552.7,698.8 L1555.2,699.3 L1557.6,699.8 L1560.1,700.3 L1562.5,700.7 L1565.0,701.2 L1567.4,701.7 L1569.9,702.1 L1572.3,702.6 L1574.8,703.0 L1577.2,703.5 L1579.7,703.9 L1582.1,704.4 L1584.6,704.8 L1587.1,705.2 L1589.5,705.7 L1592.0,706.1 L1594.4,706.5 L1596.9,707.0 L1599.3,707.4 L1601.8,707.8 L1604.3,708.2 L1606.7,708.6 L1609.2,709.0 L1611.6,709.5 L1614.1,709.9 L1616.6,710.3 L1619.0,710.7 L1621.5,711.1 L1624.0,711.5 L1626.4,711.8 L1628.9,712.2 L1631.3,712.6 L1633.8,713.0 L1636.3,713.4 L1638.7,713.8 L1641.2,714.1 L1643.7,714.5 L1646.1,714.9 L1648.6,715.2 L1651.1,715.6 L1653.5,716.0 L1656.0,716.3 L1658.5,716.7 L1661.0,717.0 L1663.4,717.4 L1665.9,717.7 L1668.4,718.1 L1670.8,718.4 L1673.3,718.8 L1675.8,719.1 L1678.2,719.4 L1680.7,719.8 L1683.2,720.1 L1685.7,720.4 L1688.1,720.8 L1690.6,721.1 L1693.1,721.4 L1695.6,721.7 L1698.0,722.0 L1700.5,722.4 L1703.0,722.7 L1705.5,723.0 L1707.9,723.3 L1710.4,723.6 L1712.9,723.9 L1715.4,724.2 L1717.9,724.5 L1720.3,724.8 L1722.8,725.1 L1725.3,725.4 L1727.8,725.7 L1730.2,725.9 L1732.7,726.2 L1735.2,726.5 L1737.7,726.8 L1740.2,727.1 L1742.6,727.3 L1745.1,727.6 L1747.6,727.9 L1750.1,728.2 L1752.6,728.4 L1755.1,728.7 L1757.5,729.0 L1760.0,729.2 L1762.5,729.5 L1765.0,729.7 L1767.5,730.0 L1770.0,730.2 L1772.4,730.5 L1774.9,730.7 L1777.4,731.0 L1779.9,731.2 L1782.4,731.5 L1784.9,731.7 L1787.4,732.0 L1789.8,732.2 L1792.3,732.4 L1794.8,732.7 L1797.3,732.9 L1799.8,733.1 L1802.3,733.4 L1804.8,733.6 L1807.2,733.8 L1809.7,734.0 L1812.2,734.3 L1814.7,734.5 L1817.2,734.7 L1819.7,734.9 L1822.2,735.1 L1824.7,735.3 L1827.2,735.6 L1829.6,735.8 L1832.1,736.0 L1834.6,736.2 L1837.1,736.4 L1839.6,736.6 L1842.1,736.8 L1844.6,737.0 L1847.1,737.2 L1849.6,737.4 L1852.1,737.6 L1854.6,737.8 L1857.0,738.0 L1859.5,738.2 L1862.0,738.4 L1864.5,738.5 L1867.0,738.7 L1869.5,738.9 L1872.0,739.1 L1874.5,739.3 L1877.0,739.5 L1879.5,739.6 L1882.0,739.8 L1884.5,740.0 L1887.0,740.2 L1889.4,740.3 L1891.9,740.5 L1894.4,740.7 L1896.9,740.9 L1899.4,741.0 L1901.9,741.2 L1904.4,741.4 L1906.9,741.5 L1909.4,741.7 L1911.9,741.9 L1914.4,742.0 L1916.9,742.2 L1919.4,742.4 L1921.9,742.5 L1924.4,742.7 L1926.9,742.8 L1929.4,743.0 L1931.8,743.1" stroke="#A5A5A5" clip-path="url(#c1)"/>
<path d="M551.4,1639.3 L554.1,1639.2 L556.7,1639.4 L559.2,1639.8 L561.5,1640.5 L563.7,1641.3 L565.9,1642.4 L567.9,1643.6 L569.9,1645.0 L571.8,1646.5 L573.6,1648.2 L575.4,1649.9 L577.2,1651.7 L579.0,1653.5 L580.7,1655.4 L582.5,1657.2 L584.2,1659.1 L586.0,1660.9 L587.9,1662.7 L589.8,1664.4 L591.7,1666.0 L593.7,1667.6 L595.8,1669.0 L597.9,1670.3 L600.1,1671.5 L602.3,1672.6 L604.6,1673.6 L606.9,1674.5 L609.3,1675.3 L611.7,1676.0 L614.1,1676.6 L616.5,1677.1 L619.0,1677.6 L621.5,1677.9 L623.9,1678.1 L626.4,1678.3 L628.9,1678.4 L631.4,1678.3 L633.9,1678.2 L636.4,1678.0 L638.9,1677.8 L641.3,1677.4 L643.8,1677.0 L646.2,1676.4 L648.5,1675.8 L650.9,1675.2 L653.3,1674.5 L655.6,1673.7 L657.9,1672.8 L660.2,1671.9 L662.5,1670.9 L664.8,1669.9 L667.0,1668.9 L669.3,1667.8 L671.5,1666.7 L673.8,1665.5 L676.0,1664.3 L678.2,1663.1 L680.4,1661.8 L682.6,1660.6 L684.8,1659.3 L687.0,1658.0 L689.2,1656.7 L691.4,1655.4 L693.6,1654.2 L695.8,1652.9 L698.0,1651.6 L700.2,1650.3 L702.4,1649.1 L704.6,1647.8 L706.9,1646.6 L709.1,1645.4 L711.3,1644.3 L713.6,1643.1 L715.8,1642.1 L718.1,1641.0 L720.4,1640.0 L722.7,1639.0 L725.0,1638.1 L727.3,1637.2 L729.6,1636.4 L731.9,1635.5 L734.3,1634.8 L736.6,1634.0 L739.0,1633.3 L741.3,1632.6 L743.7,1631.9 L746.1,1631.3 L748.5,1630.7 L750.9,1630.2 L753.3,1629.6 L755.7,1629.1 L758.1,1628.6 L760.5,1628.2 L763.0,1627.7 L765.4,1627.3 L767.9,1626.9 L770.3,1626.6 L772.8,1626.2 L775.2,1625.9 L777.7,1625.6 L780.2,1625.3 L782.7,1625.1 L785.1,1624.8 L787.6,1624.6 L790.1,1624.4 L792.6,1624.2 L795.1,1624.0 L797.6,1623.8 L800.1,1623.7 L802.6,1623.5 L805.1,1623.4 L807.6,1623.3 L810.2,1623.2 L812.7,1623.1 L815.2,1623.0 L817.7,1622.9 L820.2,1622.8 L822.7,1622.7 L825.3,1622.7 L827.8,1622.6 L830.3,1622.6 L832.8,1622.5 L835.3,1622.5 L837.9,1622.5 L840.4,1622.5 L842.9,1622.5 L845.4,1622.5 L848.0,1622.5 L850.5,1622.6 L853.0,1622.6 L855.5,1622.7 L858.0,1622.7 L860.6,1622.8 L863.1,1622.9 L865.6,1623.0 L868.1,1623.1 L870.6,1623.2 L873.1,1623.4 L875.6,1623.5 L878.2,1623.7 L880.7,1623.9 L883.2,1624.0 L885.7,1624.3 L888.2,1624.5 L890.7,1624.7 L893.2,1624.9 L895.7,1625.2 L898.2,1625.5 L900.6,1625.7 L903.1,1626.0 L905.6,1626.4 L908.1,1626.7 L910.6,1627.0 L913.0,1627.4 L915.5,1627.7 L918.0,1628.1 L920.4,1628.5 L922.9,1629.0 L925.3,1629.4 L927.8,1629.8 L930.2,1630.3 L932.7,1630.8 L935.1,1631.3 L937.5,1631.8 L939.9,1632.3 L942.4,1632.9 L944.8,1633.5 L947.2,1634.1 L949.6,1634.7 L952.0,1635.3 L954.4,1635.9 L956.8,1636.6 L959.1,1637.3 L961.5,1638.0 L963.9,1638.7 L966.2,1639.4 L968.6,1640.2 L970.9,1640.9 L973.3,1641.7 L975.6,1642.5 L977.9,1643.4 L980.3,1644.2 L982.6,1645.1 L984.9,1646.0 L987.2,1646.9 L989.5,1647.8 L991.7,1648.8 L994.0,1649.8 L996.3,1650.8 L998.5,1651.8 L1000.8,1652.8 L1003.0,1653.9 L1005.3,1655.0 L1007.5,1656.1 L1009.7,1657.2 L1011.9,1658.4 L1014.1,1659.6 L1016.3,1660.8 L1018.5,1662.0 L1020.6,1663.2 L1022.8,1664.5 L1024.9,1665.8 L1027.1,1667.1 L1029.2,1668.4 L1031.3,1669.8 L1033.4,1671.1 L1035.5,1672.5 L1037.6,1673.9 L1039.6,1675.3 L1041.7,1676.8 L1043.7,1678.3 L1045.8,1679.8 L1047.8,1681.3 L1049.8,1682.8 L1051.8,1684.3 L1053.7,1685.9 L1055.7,1687.5 L1057.7,1689.1 L1059.6,1690.7 L1061.5,1692.3 L1063.4,1694.0 L1065.3,1695.7 L1067.2,1697.4 L1069.0,1699.1 L1070.8,1700.8 L1072.7,1702.5 L1074.5,1704.3 L1076.3,1706.1 L1078.0,1707.8 L1079.8,1709.7 L1081.5,1711.5 L1083.2,1713.3 L1084.9,1715.2 L1086.6,1717.0 L1088.3,1718.9 L1089.9,1720.8 L1091.5,1722.7 L1093.2,1724.7 L1094.7,1726.6 L1096.3,1728.6 L1097.9,1730.5 L1099.4,1732.5 L1100.9,1734.5 L1102.4,1736.5 L1103.8,1738.5 L1105.3,1740.6 L1106.7,1742.6 L1108.1,1744.7 L1109.5,1746.8 L1110.8,1748.9 L1112.2,1751.0 L1113.5,1753.1 L1114.8,1755.2 L1116.0,1757.3 L1117.3,1759.5 L1118.5,1761.6 L1119.7,1763.8 L1120.9,1766.0 L1122.0,1768.2 L1123.2,1770.4 L1124.3,1772.6 L1125.4,1774.8 L1126.5,1777.0 L1127.6,1779.3 L1128.6,1781.5 L1129.7,1783.8 L1130.7,1786.0 L1131.7,1788.3 L1132.7,1790.6 L1133.7,1792.9 L1134.6,1795.2 L1135.6,1797.5 L1136.5,1799.8 L1137.4,1802.1 L1138.3,1804.4 L1139.2,1806.8 L1140.1,1809.1 L1141.0,1811.4 L1141.8,1813.8 L1142.7,1816.1 L1143.5,1818.5 L1144.3,1820.9 L1145.2,1823.2 L1146.0,1825.6 L1146.7,1828.0 L1147.5,1830.4 L1148.3,1832.7 L1149.1,1835.1 L1149.8,1837.5 L1150.6,1839.9 L1151.3,1842.3 L1152.0,1844.7 L1152.8,1847.1 L1153.5,1849.5 L1154.2,1851.9 L1154.9,1854.3 L1155.6,1856.7 L1156.3,1859.2 L1157.0,1861.6 L1157.7,1864.0 L1158.4,1866.4 L1159.1,1868.8 L1159.8,1871.2 L1160.5,1873.6 L1161.1,1876.1 L1161.8,1878.5 L1162.5,1880.9 L1163.2,1883.3 L1163.8,1885.7 L1164.5,1888.1 L1165.2,1890.5 L1165.9,1892.9 L1166.5,1895.4 L1167.2,1897.8 L1167.9,1900.2 L1168.6,1902.6 L1169.2,1905.0 L1169.9,1907.4 L1170.6,1909.8 L1171.3,1912.2 L1171.9,1914.6 L1172.6,1917.0 L1173.3,1919.4 L1174.0,1921.7 L1174.6,1924.1 L1175.3,1926.5 L1176.0,1928.9 L1176.6,1931.3 L1177.3,1933.7 L1178.0,1936.1 L1178.7,1938.5 L1179.3,1940.9 L1180.0,1943.3 L1180.7,1945.7 L1181.3,1948.1 L1182.0,1950.4 L1182.7,1952.8 L1183.3,1955.2 L1184.0,1957.6 L1184.7,1960.0 L1185.3,1962.4 L1186.0,1964.8 L1186.7,1967.2 L1187.3,1969.6 L1188.0,1972.0 L1188.7,1974.4 L1189.3,1976.8 L1190.0,1979.1 L1190.7,1981.5 L1191.3,1983.9 L1192.0,1986.3 L1192.6,1988.7 L1193.3,1991.1 L1193.9,1993.5 L1194.6,1995.9 L1195.3,1998.3 L1195.9,2000.7 L1196.6,2003.1 L1197.2,2005.5 L1197.9,2007.9 L1198.5,2010.4 L1199.2,2012.8 L1199.8,2015.2 L1200.5,2017.6 L1201.1,2020.0 L1201.8,2022.4 L1202.4,2024.8 L1203.0,2027.2 L1203.7,2029.7 L1204.3,2032.1 L1205.0,2034.5 L1205.6,2036.9 L1206.2,2039.4 L1206.9,2041.8 L1207.5,2044.2 L1208.1,2046.7 L1208.8,2049.1 L1209.4,2051.5 L1210.0,2054.0 L1210.6,2056.4 L1211.3,2058.9 L1211.9,2061.3 L1212.5,2063.8 L1213.1,2066.2 L1213.8,2068.7 L1214.4,2071.1 L1215.0,2073.6 L1215.6,2076.1 L1216.2,2078.5 L1216.8,2081.0 L1217.4,2083.5 L1218.0,2086.0 L1218.7,2088.4 L1219.3,2090.9 L1219.9,2093.4 L1220.5,2095.9 L1221.1,2098.3 L1221.7,2100.8 L1222.3,2103.3 L1222.9,2105.8 L1223.5,2108.3 L1224.1,2110.7 L1224.7,2113.2 L1225.3,2115.7 L1225.9,2118.1 L1226.5,2120.6 L1227.1,2123.0 L1227.7,2125.5 L1228.3,2127.9 L1228.9,2130.4 L1229.5,2132.8 L1230.2,2135.2 L1230.8,2137.7 L1231.4,2140.1 L1232.0,2142.5 L1232.6,2144.9 L1233.2,2147.3 L1233.9,2149.6 L1234.5,2152.0 L1235.1,2154.4 L1235.8,2156.7 L1236.4,2159.1 L1237.0,2161.4 L1237.7,2163.7 L1238.3,2166.0 L1239.0,2168.3 L1239.6,2170.6 L1240.3,2172.9 L1240.9,2175.1 L1241.6,2177.4 L1242.3,2179.6 L1242.9,2181.8 L1243.6,2184.1 L1244.3,2186.3 L1245.0,2188.5 L1245.7,2190.7 L1246.4,2192.9 L1247.1,2195.1 L1247.8,2197.3 L1248.6,2199.6 L1249.3,2201.8 L1250.0,2204.0 L1250.8,2206.3 L1251.6,2208.6 L1252.3,2210.8 L1253.1,2213.1 L1253.9,2215.5 L1254.7,2217.8 L1255.6,2220.2 L1256.4,2222.5 L1257.2,2225.0 L1258.1,2227.4 L1259.0,2229.9 L1259.9,2232.4 L1260.8,2234.9 L1261.7,2237.5 L1262.6,2240.1 L1263.6,2242.7 L1264.5,2245.4 L1265.5,2248.1 L1266.5,2250.9 L1267.5,2253.7 L1268.6,2256.6 L1269.6,2259.5 L1270.7,2262.4 L1271.8,2265.2 L1272.9,2267.8 L1274.1,2270.2 L1275.3,2272.3 L1276.6,2274.0 L1277.9,2275.2 L1279.2,2276.0 L1280.7,2276.1 L1282.1,2275.5 L1283.6,2274.5 L1285.2,2273.0 L1286.7,2271.1 L1288.2,2268.8 L1289.6,2266.3 L1291.0,2263.6 L1292.3,2260.8 L1293.5,2258.0 L1294.7,2255.1 L1295.7,2252.3 L1296.5,2249.6 L1297.3,2246.9 L1298.0,2244.2 L1298.7,2241.6 L1299.2,2239.0 L1299.7,2236.4 L1300.1,2233.9 L1300.5,2231.3 L1300.8,2228.8 L1301.1,2226.4 L1301.4,2223.9 L1301.7,2221.4 L1302.0,2219.0 L1302.2,2216.5 L1302.5,2214.1 L1302.7,2211.6 L1303.0,2209.2 L1303.3,2206.8 L1303.5,2204.4 L1303.8,2201.9 L1304.0,2199.5 L1304.3,2197.1 L1304.6,2194.7 L1304.8,2192.3 L1305.1,2189.8 L1305.4,2187.4 L1305.6,2185.0 L1305.9,2182.6 L1306.1,2180.2 L1306.4,2177.7 L1306.6,2175.3 L1306.9,2172.9 L1307.1,2170.5 L1307.4,2168.0 L1307.6,2165.6 L1307.9,2163.2 L1308.1,2160.7 L1308.4,2158.3 L1308.6,2155.8 L1308.9,2153.4 L1309.1,2150.9 L1309.3,2148.5 L1309.6,2146.0 L1309.8,2143.6 L1310.0,2141.1 L1310.3,2138.6 L1310.5,2136.2 L1310.7,2133.7 L1310.9,2131.2 L1311.2,2128.7 L1311.4,2126.3 L1311.6,2123.8 L1311.9,2121.3 L1312.1,2118.8 L1312.3,2116.3 L1312.5,2113.9 L1312.7,2111.4 L1313.0,2108.9 L1313.2,2106.4 L1313.4,2103.9 L1313.6,2101.4 L1313.8,2098.9 L1314.1,2096.4 L1314.3,2093.9 L1314.5,2091.4 L1314.7,2088.9 L1314.9,2086.4 L1315.2,2083.9 L1315.4,2081.4 L1315.6,2078.9 L1315.8,2076.4 L1316.0,2073.9 L1316.3,2071.4 L1316.5,2068.9 L1316.7,2066.4 L1316.9,2063.9 L1317.1,2061.4 L1317.4,2058.9 L1317.6,2056.3 L1317.8,2053.8 L1318.0,2051.3 L1318.3,2048.8 L1318.5,2046.3 L1318.7,2043.8 L1318.9,2041.3 L1319.2,2038.8 L1319.4,2036.3 L1319.6,2033.8 L1319.9,2031.3 L1320.1,2028.8 L1320.3,2026.3 L1320.6,2023.8 L1320.8,2021.3 L1321.1,2018.8 L1321.3,2016.3 L1321.5,2013.8 L1321.8,2011.3 L1322.0,2008.8 L1322.3,2006.3 L1322.5,2003.8 L1322.8,2001.3 L1323.0,1998.8 L1323.3,1996.3 L1323.5,1993.8 L1323.8,1991.3 L1324.1,1988.8 L1324.3,1986.3 L1324.6,1983.8 L1324.9,1981.4 L1325.1,1978.9 L1325.4,1976.4 L1325.7,1973.9 L1325.9,1971.4 L1326.2,1969.0 L1326.5,1966.5 L1326.8,1964.0 L1327.1,1961.5 L1327.3,1959.1 L1327.6,1956.6 L1327.9,1954.1 L1328.2,1951.7 L1328.5,1949.2 L1328.8,1946.7 L1329.1,1944.3 L1329.4,1941.8 L1329.6,1939.3 L1329.9,1936.9 L1330.2,1934.4 L1330.5,1931.9 L1330.8,1929.5 L1331.1,1927.0 L1331.4,1924.5 L1331.7,1922.1 L1332.0,1919.6 L1332.3,1917.1 L1332.6,1914.7 L1332.9,1912.2 L1333.2,1909.7 L1333.4,1907.3 L1333.7,1904.8 L1334.0,1902.3 L1334.3,1899.9 L1334.6,1897.4 L1334.9,1894.9 L1335.2,1892.4 L1335.5,1890.0 L1335.7,1887.5 L1336.0,1885.0 L1336.3,1882.5 L1336.6,1880.1 L1336.9,1877.6 L1337.1,1875.1 L1337.4,1872.6 L1337.7,1870.1 L1338.0,1867.6 L1338.2,1865.2 L1338.5,1862.7 L1338.8,1860.2 L1339.0,1857.7 L1339.3,1855.2 L1339.5,1852.7 L1339.8,1850.2 L1340.1,1847.7 L1340.3,1845.2 L1340.6,1842.7 L1340.8,1840.2 L1341.0,1837.6 L1341.3,1835.1 L1341.5,1832.6 L1341.8,1830.1 L1342.0,1827.6 L1342.3,1825.1 L1342.5,1822.6 L1342.8,1820.0 L1343.0,1817.5 L1343.3,1815.0 L1343.6,1812.5 L1343.9,1810.0 L1344.2,1807.5 L1344.5,1805.0 L1344.8,1802.5 L1345.1,1799.9 L1345.4,1797.4 L1345.8,1794.9 L1346.1,1792.5 L1346.5,1790.0 L1346.9,1787.5 L1347.2,1785.0 L1347.7,1782.5 L1348.1,1780.0 L1348.5,1777.6 L1349.0,1775.1 L1349.5,1772.7 L1350.0,1770.2 L1350.5,1767.8 L1351.0,1765.3 L1351.6,1762.9 L1352.2,1760.5 L1352.8,1758.1 L1353.4,1755.6 L1354.1,1753.2 L1354.8,1750.9 L1355.5,1748.5 L1356.2,1746.1 L1357.0,1743.7 L1357.8,1741.4 L1358.6,1739.0 L1359.5,1736.7 L1360.4,1734.4 L1361.3,1732.1 L1362.2,1729.8 L1363.2,1727.5 L1364.3,1725.2 L1365.3,1722.9 L1366.4,1720.7 L1367.5,1718.4 L1368.7,1716.2 L1369.9,1714.0 L1371.1,1711.8 L1372.4,1709.7 L1373.7,1707.5 L1375.1,1705.5 L1376.5,1703.4 L1378.0,1701.4 L1379.5,1699.5 L1381.0,1697.6 L1382.6,1695.7 L1384.2,1693.9 L1385.9,1692.2 L1387.6,1690.5 L1389.4,1688.9 L1391.3,1687.4 L1393.1,1686.0 L1395.1,1684.6 L1397.1,1683.4 L1399.1,1682.2 L1401.2,1681.1 L1403.4,1680.0 L1405.5,1679.0 L1407.8,1678.1 L1410.0,1677.3 L1412.3,1676.5 L1414.7,1675.8 L1417.0,1675.1 L1419.4,1674.5 L1421.8,1673.9 L1424.3,1673.3 L1426.7,1672.8 L1429.2,1672.3 L1431.7,1671.9 L1434.3,1671.5 L1436.8,1671.1 L1439.3,1670.7 L1441.9,1670.3 L1444.5,1670.0 L1447.0,1669.6 L1449.6,1669.3 L1452.2,1669.0 L1454.7,1668.6 L1457.3,1668.3 L1459.8,1667.9 L1462.4,1667.6 L1464.9,1667.3 L1467.5,1666.9 L1470.0,1666.6 L1472.6,1666.2 L1475.1,1665.9 L1477.6,1665.5 L1480.2,1665.2 L1482.7,1664.8 L1485.2,1664.5 L1487.7,1664.1 L1490.3,1663.8 L1492.8,1663.4 L1495.3,1663.1 L1497.8,1662.7 L1500.3,1662.4 L1502.8,1662.0 L1505.3,1661.6 L1507.8,1661.3 L1510.3,1660.9 L1512.8,1660.6 L1515.3,1660.2 L1517.8,1659.8 L1520.3,1659.5 L1522.8,1659.1 L1525.3,1658.8 L1527.8,1658.4 L1530.3,1658.0 L1532.8,1657.7 L1535.2,1657.3 L1537.7,1657.0 L1540.2,1656.6 L1542.7,1656.3 L1545.1,1655.9 L1547.6,1655.5 L1550.1,1655.2 L1552.6,1654.8 L1555.0,1654.5 L1557.5,1654.1 L1560.0,1653.8 L1562.4,1653.4 L1564.9,1653.1 L1567.4,1652.7 L1569.8,1652.4 L1572.3,1652.0 L1574.8,1651.7 L1577.2,1651.3 L1579.7,1651.0 L1582.1,1650.6 L1584.6,1650.3 L1587.1,1649.9 L1589.5,1649.6 L1592.0,1649.3 L1594.4,1648.9 L1596.9,1648.6 L1599.3,1648.3 L1601.8,1647.9 L1604.2,1647.6 L1606.7,1647.3 L1609.2,1646.9 L1611.6,1646.6 L1614.1,1646.3 L1616.5,1646.0 L1619.0,1645.7 L1621.4,1645.4 L1623.9,1645.0 L1626.3,1644.7 L1628.8,1644.4 L1631.2,1644.1 L1633.7,1643.8 L1636.1,1643.5 L1638.6,1643.2 L1641.1,1642.9 L1643.5,1642.6 L1646.0,1642.4 L1648.4,1642.1 L1650.9,1641.8 L1653.4,1641.5 L1655.8,1641.2 L1658.3,1641.0 L1660.7,1640.7 L1663.2,1640.4 L1665.7,1640.2 L1668.1,1639.9 L1670.6,1639.7 L1673.1,1639.4 L1675.5,1639.2 L1678.0,1638.9 L1680.5,1638.7 L1682.9,1638.5 L1685.4,1638.2 L1687.9,1638.0 L1690.4,1637.8 L1692.8,1637.6 L1695.3,1637.3 L1697.8,1637.1 L1700.3,1636.9 L1702.8,1636.7 L1705.3,1636.5 L1707.7,1636.3 L1710.2,1636.1 L1712.7,1636.0 L1715.2,1635.8 L1717.7,1635.6 L1720.2,1635.4 L1722.7,1635.3 L1725.2,1635.1 L1727.7,1634.9 L1730.2,1634.8 L1732.7,1634.6 L1735.2,1634.5 L1737.7,1634.3 L1740.2,1634.2 L1742.7,1634.0 L1745.2,1633.9 L1747.7,1633.8 L1750.2,1633.6 L1752.8,1633.5 L1755.3,1633.4 L1757.8,1633.3 L1760.3,1633.1 L1762.8,1633.0 L1765.3,1632.9 L1767.8,1632.8 L1770.3,1632.7 L1772.9,1632.6 L1775.4,1632.5 L1777.9,1632.4 L1780.4,1632.3 L1782.9,1632.2 L1785.4,1632.1 L1788.0,1632.0 L1790.5,1631.9 L1793.0,1631.8 L1795.5,1631.7 L1798.0,1631.6 L1800.5,1631.5 L1803.1,1631.4 L1805.6,1631.3 L1808.1,1631.3 L1810.6,1631.2 L1813.1,1631.1 L1815.7,1631.0 L1818.2,1630.9 L1820.7,1630.8 L1823.2,1630.8 L1825.7,1630.7 L1828.2,1630.6 L1830.7,1630.5 L1833.3,1630.5 L1835.8,1630.4 L1838.3,1630.3 L1840.8,1630.2 L1843.3,1630.2 L1845.8,1630.1 L1848.3,1630.0 L1850.8,1629.9 L1853.4,1629.9 L1855.9,1629.8 L1858.4,1629.7 L1860.9,1629.6 L1863.4,1629.5 L1865.9,1629.5 L1868.4,1629.4 L1870.9,1629.3 L1873.4,1629.2 L1875.9,1629.1 L1878.4,1629.1 L1880.9,1629.0 L1883.4,1628.9 L1885.9,1628.8 L1888.3,1628.7 L1890.8,1628.6 L1893.3,1628.5 L1895.8,1628.5 L1898.3,1628.4 L1900.8,1628.3 L1903.2,1628.2 L1905.7,1628.1 L1908.2,1628.0 L1910.7,1627.9 L1913.2,1627.8 L1915.6,1627.7 L1918.1,1627.5 L1920.6,1627.4 L1923.0,1627.3 L1925.5,1627.2 L1927.9,1627.1 L1930.4,1627.0 L1932.9,1626.8" stroke="#1872C9" clip-path="url(#c2)"/>
<path d="M552.2,1638.4 L554.3,1638.8 L556.5,1639.3 L558.7,1639.8 L560.9,1640.4 L563.2,1641.1 L565.4,1641.7 L567.7,1642.5 L570.0,1643.2 L572.3,1644.0 L574.6,1644.8 L576.9,1645.6 L579.3,1646.5 L581.7,1647.3 L584.0,1648.2 L586.4,1649.1 L588.8,1650.0 L591.2,1650.9 L593.7,1651.8 L596.1,1652.6 L598.5,1653.5 L601.0,1654.3 L603.4,1655.1 L605.8,1655.9 L608.3,1656.7 L610.8,1657.4 L613.2,1658.1 L615.7,1658.7 L618.1,1659.3 L620.6,1659.8 L623.1,1660.3 L625.5,1660.7 L628.0,1661.1 L630.4,1661.4 L632.9,1661.6 L635.3,1661.8 L637.7,1661.8 L640.2,1661.8 L642.6,1661.7 L645.0,1661.5 L647.4,1661.2 L649.8,1660.9 L652.2,1660.4 L654.5,1659.9 L656.9,1659.4 L659.3,1658.7 L661.7,1658.0 L664.0,1657.3 L666.4,1656.5 L668.7,1655.7 L671.1,1654.8 L673.4,1653.9 L675.8,1652.9 L678.1,1652.0 L680.4,1651.0 L682.8,1650.0 L685.1,1648.9 L687.5,1647.9 L689.8,1646.8 L692.2,1645.8 L694.5,1644.8 L696.8,1643.7 L699.2,1642.7 L701.5,1641.7 L703.9,1640.7 L706.3,1639.7 L708.6,1638.8 L711.0,1637.8 L713.4,1637.0 L715.7,1636.1 L718.1,1635.3 L720.5,1634.6 L722.9,1633.9 L725.3,1633.2 L727.7,1632.6 L730.1,1632.0 L732.5,1631.4 L735.0,1630.9 L737.4,1630.4 L739.8,1630.0 L742.2,1629.5 L744.7,1629.1 L747.1,1628.8 L749.6,1628.4 L752.0,1628.1 L754.4,1627.8 L756.9,1627.6 L759.3,1627.3 L761.8,1627.1 L764.3,1626.9 L766.7,1626.7 L769.2,1626.5 L771.6,1626.3 L774.1,1626.2 L776.6,1626.0 L779.0,1625.9 L781.5,1625.8 L784.0,1625.7 L786.4,1625.6 L788.9,1625.5 L791.4,1625.4 L793.8,1625.4 L796.3,1625.3 L798.8,1625.3 L801.2,1625.2 L803.7,1625.2 L806.2,1625.2 L808.6,1625.2 L811.1,1625.3 L813.6,1625.3 L816.1,1625.3 L818.6,1625.4 L821.0,1625.4 L823.5,1625.5 L826.0,1625.6 L828.5,1625.6 L830.9,1625.7 L833.4,1625.8 L835.9,1625.9 L838.4,1626.1 L840.9,1626.2 L843.4,1626.3 L845.8,1626.5 L848.3,1626.6 L850.8,1626.8 L853.3,1627.0 L855.8,1627.1 L858.3,1627.3 L860.8,1627.5 L863.3,1627.7 L865.7,1627.9 L868.2,1628.1 L870.7,1628.4 L873.2,1628.6 L875.7,1628.8 L878.2,1629.1 L880.7,1629.3 L883.2,1629.6 L885.7,1629.8 L888.2,1630.1 L890.7,1630.4 L893.2,1630.6 L895.7,1630.9 L898.2,1631.2 L900.7,1631.5 L903.2,1631.8 L905.7,1632.1 L908.2,1632.4 L910.7,1632.7 L913.2,1633.0 L915.7,1633.4 L918.2,1633.7 L920.7,1634.0 L923.2,1634.4 L925.7,1634.7 L928.2,1635.0 L930.7,1635.4 L933.2,1635.7 L935.7,1636.1 L938.2,1636.4 L940.7,1636.8 L943.2,1637.2 L945.7,1637.5 L948.2,1637.9 L950.7,1638.3 L953.2,1638.6 L955.7,1639.0 L958.2,1639.4 L960.7,1639.8 L963.2,1640.2 L965.7,1640.6 L968.2,1641.0 L970.7,1641.5 L973.2,1641.9 L975.7,1642.4 L978.2,1642.8 L980.6,1643.3 L983.1,1643.8 L985.5,1644.3 L988.0,1644.9 L990.4,1645.4 L992.9,1646.0 L995.3,1646.5 L997.7,1647.1 L1000.1,1647.8 L1002.5,1648.4 L1004.9,1649.1 L1007.3,1649.8 L1009.7,1650.5 L1012.0,1651.2 L1014.4,1652.0 L1016.7,1652.8 L1019.0,1653.6 L1021.3,1654.4 L1023.6,1655.3 L1025.9,1656.2 L1028.2,1657.1 L1030.4,1658.1 L1032.7,1659.0 L1034.9,1660.1 L1037.1,1661.1 L1039.3,1662.2 L1041.5,1663.3 L1043.6,1664.5 L1045.8,1665.7 L1047.9,1666.9 L1050.0,1668.1 L1052.1,1669.4 L1054.2,1670.7 L1056.3,1672.1 L1058.3,1673.4 L1060.3,1674.8 L1062.4,1676.3 L1064.3,1677.7 L1066.3,1679.2 L1068.3,1680.7 L1070.2,1682.3 L1072.2,1683.8 L1074.1,1685.4 L1076.0,1687.0 L1077.9,1688.7 L1079.7,1690.3 L1081.6,1692.0 L1083.4,1693.7 L1085.2,1695.4 L1087.0,1697.2 L1088.8,1698.9 L1090.5,1700.7 L1092.3,1702.6 L1094.0,1704.4 L1095.7,1706.2 L1097.4,1708.1 L1099.1,1710.0 L1100.7,1711.9 L1102.4,1713.8 L1104.0,1715.8 L1105.6,1717.7 L1107.2,1719.7 L1108.8,1721.7 L1110.3,1723.7 L1111.9,1725.7 L1113.4,1727.7 L1114.9,1729.8 L1116.4,1731.8 L1117.8,1733.9 L1119.3,1736.0 L1120.7,1738.1 L1122.1,1740.2 L1123.5,1742.3 L1124.9,1744.4 L1126.2,1746.5 L1127.5,1748.7 L1128.9,1750.8 L1130.2,1753.0 L1131.4,1755.1 L1132.7,1757.3 L1134.0,1759.5 L1135.2,1761.7 L1136.4,1763.8 L1137.6,1766.0 L1138.8,1768.3 L1139.9,1770.5 L1141.1,1772.7 L1142.2,1774.9 L1143.4,1777.1 L1144.5,1779.4 L1145.6,1781.6 L1146.6,1783.8 L1147.7,1786.1 L1148.8,1788.3 L1149.8,1790.6 L1150.9,1792.9 L1151.9,1795.1 L1152.9,1797.4 L1153.9,1799.7 L1154.9,1802.0 L1155.9,1804.3 L1156.8,1806.5 L1157.8,1808.8 L1158.8,1811.1 L1159.7,1813.4 L1160.6,1815.7 L1161.6,1818.0 L1162.5,1820.3 L1163.4,1822.6 L1164.3,1825.0 L1165.2,1827.3 L1166.1,1829.6 L1167.0,1831.9 L1167.9,1834.2 L1168.8,1836.5 L1169.7,1838.8 L1170.5,1841.2 L1171.4,1843.5 L1172.3,1845.8 L1173.1,1848.1 L1174.0,1850.5 L1174.9,1852.8 L1175.7,1855.1 L1176.6,1857.4 L1177.4,1859.8 L1178.3,1862.1 L1179.1,1864.4 L1179.9,1866.8 L1180.8,1869.1 L1181.6,1871.4 L1182.4,1873.8 L1183.2,1876.1 L1184.1,1878.5 L1184.9,1880.8 L1185.7,1883.1 L1186.5,1885.5 L1187.3,1887.8 L1188.1,1890.2 L1188.9,1892.5 L1189.7,1894.9 L1190.5,1897.2 L1191.3,1899.6 L1192.1,1901.9 L1192.9,1904.3 L1193.7,1906.6 L1194.5,1909.0 L1195.3,1911.3 L1196.0,1913.7 L1196.8,1916.1 L1197.6,1918.4 L1198.4,1920.8 L1199.2,1923.2 L1199.9,1925.5 L1200.7,1927.9 L1201.5,1930.3 L1202.2,1932.6 L1203.0,1935.0 L1203.8,1937.4 L1204.5,1939.8 L1205.3,1942.1 L1206.0,1944.5 L1206.8,1946.9 L1207.5,1949.3 L1208.3,1951.7 L1209.0,1954.0 L1209.8,1956.4 L1210.5,1958.8 L1211.3,1961.2 L1212.0,1963.6 L1212.8,1966.0 L1213.5,1968.4 L1214.3,1970.8 L1215.0,1973.2 L1215.8,1975.6 L1216.5,1978.0 L1217.3,1980.4 L1218.0,1982.8 L1218.7,1985.2 L1219.5,1987.6 L1220.2,1990.1 L1221.0,1992.5 L1221.7,1994.9 L1222.4,1997.3 L1223.2,1999.7 L1223.9,2002.1 L1224.6,2004.6 L1225.4,2007.0 L1226.1,2009.4 L1226.9,2011.9 L1227.6,2014.3 L1228.3,2016.7 L1229.1,2019.2 L1229.8,2021.6 L1230.6,2024.0 L1231.3,2026.5 L1232.1,2028.9 L1232.9,2031.3 L1233.7,2033.7 L1234.5,2036.1 L1235.3,2038.5 L1236.2,2040.9 L1237.1,2043.3 L1238.0,2045.7 L1239.0,2048.0 L1240.0,2050.3 L1241.0,2052.7 L1242.1,2054.9 L1243.3,2057.2 L1244.4,2059.5 L1245.7,2061.7 L1247.0,2063.9 L1248.3,2066.0 L1249.7,2068.2 L1251.2,2070.3 L1252.8,2072.3 L1254.4,2074.4 L1256.1,2076.4 L1257.8,2078.2 L1259.6,2080.0 L1261.5,2081.6 L1263.4,2083.1 L1265.4,2084.4 L1267.4,2085.4 L1269.4,2086.2 L1271.5,2086.8 L1273.6,2087.0 L1275.8,2086.9 L1278.0,2086.5 L1280.1,2085.9 L1282.3,2085.1 L1284.5,2084.1 L1286.6,2082.8 L1288.8,2081.4 L1290.9,2079.8 L1292.9,2078.2 L1294.9,2076.4 L1296.9,2074.5 L1298.7,2072.5 L1300.6,2070.5 L1302.3,2068.5 L1304.0,2066.4 L1305.6,2064.3 L1307.1,2062.1 L1308.6,2059.9 L1310.0,2057.7 L1311.4,2055.4 L1312.7,2053.1 L1314.0,2050.8 L1315.2,2048.5 L1316.4,2046.1 L1317.6,2043.8 L1318.7,2041.5 L1319.7,2039.1 L1320.8,2036.8 L1321.8,2034.4 L1322.7,2032.1 L1323.7,2029.7 L1324.6,2027.4 L1325.5,2025.0 L1326.3,2022.7 L1327.1,2020.3 L1327.9,2018.0 L1328.7,2015.6 L1329.5,2013.3 L1330.2,2010.9 L1330.9,2008.6 L1331.6,2006.2 L1332.3,2003.9 L1333.0,2001.5 L1333.6,1999.2 L1334.2,1996.8 L1334.9,1994.4 L1335.5,1992.0 L1336.1,1989.7 L1336.6,1987.3 L1337.2,1984.9 L1337.8,1982.5 L1338.4,1980.1 L1338.9,1977.7 L1339.5,1975.3 L1340.0,1972.9 L1340.6,1970.5 L1341.1,1968.1 L1341.7,1965.7 L1342.2,1963.2 L1342.7,1960.8 L1343.2,1958.4 L1343.7,1955.9 L1344.2,1953.5 L1344.7,1951.1 L1345.2,1948.6 L1345.7,1946.2 L1346.2,1943.7 L1346.7,1941.3 L1347.2,1938.8 L1347.7,1936.4 L1348.2,1933.9 L1348.6,1931.4 L1349.1,1929.0 L1349.6,1926.5 L1350.0,1924.1 L1350.5,1921.6 L1351.0,1919.1 L1351.4,1916.7 L1351.9,1914.2 L1352.3,1911.7 L1352.8,1909.3 L1353.3,1906.8 L1353.7,1904.3 L1354.2,1901.8 L1354.6,1899.4 L1355.1,1896.9 L1355.6,1894.4 L1356.0,1892.0 L1356.5,1889.5 L1356.9,1887.0 L1357.4,1884.6 L1357.9,1882.1 L1358.3,1879.6 L1358.8,1877.2 L1359.3,1874.7 L1359.7,1872.2 L1360.2,1869.8 L1360.7,1867.3 L1361.2,1864.9 L1361.6,1862.4 L1362.1,1860.0 L1362.6,1857.5 L1363.1,1855.0 L1363.6,1852.6 L1364.1,1850.2 L1364.7,1847.7 L1365.2,1845.3 L1365.7,1842.8 L1366.2,1840.4 L1366.8,1838.0 L1367.3,1835.5 L1367.9,1833.1 L1368.4,1830.7 L1369.0,1828.3 L1369.6,1825.8 L1370.2,1823.4 L1370.8,1821.0 L1371.4,1818.6 L1372.0,1816.2 L1372.7,1813.8 L1373.3,1811.4 L1374.0,1809.0 L1374.6,1806.6 L1375.3,1804.2 L1376.0,1801.8 L1376.7,1799.4 L1377.4,1797.0 L1378.2,1794.6 L1378.9,1792.3 L1379.7,1789.9 L1380.5,1787.5 L1381.3,1785.2 L1382.1,1782.8 L1382.9,1780.5 L1383.7,1778.1 L1384.6,1775.8 L1385.5,1773.4 L1386.3,1771.1 L1387.3,1768.7 L1388.2,1766.4 L1389.1,1764.1 L1390.1,1761.8 L1391.1,1759.4 L1392.1,1757.1 L1393.1,1754.8 L1394.1,1752.5 L1395.2,1750.2 L1396.3,1747.9 L1397.4,1745.7 L1398.5,1743.4 L1399.7,1741.1 L1400.8,1738.8 L1402.0,1736.6 L1403.3,1734.4 L1404.6,1732.2 L1405.9,1730.1 L1407.3,1728.0 L1408.7,1726.0 L1410.3,1724.1 L1411.8,1722.2 L1413.5,1720.5 L1415.2,1718.8 L1417.0,1717.2 L1418.9,1715.7 L1420.8,1714.4 L1422.9,1713.1 L1425.0,1711.9 L1427.2,1710.8 L1429.4,1709.8 L1431.7,1708.9 L1434.1,1708.0 L1436.5,1707.2 L1438.9,1706.5 L1441.3,1705.7 L1443.8,1705.1 L1446.3,1704.4 L1448.8,1703.8 L1451.3,1703.1 L1453.8,1702.5 L1456.2,1701.9 L1458.7,1701.3 L1461.2,1700.7 L1463.6,1700.1 L1466.1,1699.5 L1468.6,1698.9 L1471.0,1698.3 L1473.4,1697.7 L1475.9,1697.1 L1478.3,1696.5 L1480.8,1695.9 L1483.2,1695.3 L1485.6,1694.7 L1488.0,1694.2 L1490.5,1693.6 L1492.9,1693.0 L1495.3,1692.4 L1497.8,1691.9 L1500.2,1691.3 L1502.6,1690.7 L1505.0,1690.2 L1507.5,1689.6 L1509.9,1689.1 L1512.3,1688.5 L1514.8,1688.0 L1517.2,1687.4 L1519.6,1686.9 L1522.1,1686.3 L1524.5,1685.8 L1527.0,1685.3 L1529.4,1684.7 L1531.8,1684.2 L1534.3,1683.7 L1536.7,1683.2 L1539.1,1682.7 L1541.6,1682.1 L1544.0,1681.6 L1546.5,1681.1 L1548.9,1680.6 L1551.4,1680.1 L1553.8,1679.6 L1556.2,1679.1 L1558.7,1678.6 L1561.1,1678.1 L1563.6,1677.6 L1566.0,1677.2 L1568.5,1676.7 L1570.9,1676.2 L1573.4,1675.7 L1575.8,1675.2 L1578.3,1674.8 L1580.7,1674.3 L1583.2,1673.8 L1585.6,1673.4 L1588.1,1672.9 L1590.5,1672.5 L1593.0,1672.0 L1595.4,1671.6 L1597.9,1671.1 L1600.3,1670.7 L1602.8,1670.2 L1605.2,1669.8 L1607.7,1669.4 L1610.2,1668.9 L1612.6,1668.5 L1615.1,1668.1 L1617.5,1667.6 L1620.0,1667.2 L1622.4,1666.8 L1624.9,1666.4 L1627.4,1666.0 L1629.8,1665.6 L1632.3,1665.2 L1634.7,1664.8 L1637.2,1664.4 L1639.7,1664.0 L1642.1,1663.6 L1644.6,1663.2 L1647.1,1662.8 L1649.5,1662.4 L1652.0,1662.0 L1654.5,1661.6 L1656.9,1661.2 L1659.4,1660.9 L1661.9,1660.5 L1664.3,1660.1 L1666.8,1659.8 L1669.3,1659.4 L1671.7,1659.0 L1674.2,1658.7 L1676.7,1658.3 L1679.1,1658.0 L1681.6,1657.6 L1684.1,1657.3 L1686.5,1656.9 L1689.0,1656.6 L1691.5,1656.2 L1694.0,1655.9 L1696.4,1655.6 L1698.9,1655.2 L1701.4,1654.9 L1703.9,1654.6 L1706.3,1654.3 L1708.8,1653.9 L1711.3,1653.6 L1713.8,1653.3 L1716.2,1653.0 L1718.7,1652.7 L1721.2,1652.4 L1723.7,1652.1 L1726.1,1651.8 L1728.6,1651.5 L1731.1,1651.2 L1733.6,1650.9 L1736.1,1650.6 L1738.5,1650.3 L1741.0,1650.0 L1743.5,1649.7 L1746.0,1649.5 L1748.5,1649.2 L1750.9,1648.9 L1753.4,1648.6 L1755.9,1648.4 L1758.4,1648.1 L1760.9,1647.8 L1763.3,1647.6 L1765.8,1647.3 L1768.3,1647.1 L1770.8,1646.8 L1773.3,1646.6 L1775.8,1646.3 L1778.2,1646.1 L1780.7,1645.8 L1783.2,1645.6 L1785.7,1645.3 L1788.2,1645.1 L1790.7,1644.9 L1793.2,1644.6 L1795.6,1644.4 L1798.1,1644.2 L1800.6,1644.0 L1803.1,1643.8 L1805.6,1643.5 L1808.1,1643.3 L1810.6,1643.1 L1813.1,1642.9 L1815.5,1642.7 L1818.0,1642.5 L1820.5,1642.3 L1823.0,1642.1 L1825.5,1641.9 L1828.0,1641.7 L1830.5,1641.5 L1833.0,1641.3 L1835.5,1641.1 L1838.0,1641.0 L1840.4,1640.8 L1842.9,1640.6 L1845.4,1640.4 L1847.9,1640.3 L1850.4,1640.1 L1852.9,1639.9 L1855.4,1639.8 L1857.9,1639.6 L1860.4,1639.4 L1862.9,1639.3 L1865.4,1639.1 L1867.9,1639.0 L1870.3,1638.8 L1872.8,1638.7 L1875.3,1638.5 L1877.8,1638.4 L1880.3,1638.2 L1882.8,1638.1 L1885.3,1638.0 L1887.8,1637.8 L1890.3,1637.7 L1892.8,1637.6 L1895.3,1637.5 L1897.8,1637.3 L1900.3,1637.2 L1902.8,1637.1 L1905.3,1637.0 L1907.8,1636.9 L1910.3,1636.8 L1912.7,1636.7 L1915.2,1636.6 L1917.7,1636.5 L1920.2,1636.4 L1922.7,1636.3 L1925.2,1636.2 L1927.7,1636.1 L1930.2,1636.0" stroke="#FE7E25" clip-path="url(#c2)"/>
<path d="M551.4,1635.5 L554.0,1635.2 L556.6,1635.2 L559.0,1635.3 L561.4,1635.7 L563.8,1636.1 L566.1,1636.8 L568.4,1637.5 L570.6,1638.4 L572.8,1639.4 L575.0,1640.5 L577.2,1641.6 L579.4,1642.8 L581.5,1644.1 L583.7,1645.3 L585.9,1646.6 L588.1,1647.9 L590.3,1649.1 L592.5,1650.3 L594.8,1651.5 L597.1,1652.5 L599.4,1653.6 L601.8,1654.5 L604.2,1655.4 L606.6,1656.2 L609.1,1657.0 L611.5,1657.7 L614.0,1658.3 L616.5,1658.8 L619.0,1659.3 L621.5,1659.8 L624.0,1660.1 L626.5,1660.4 L629.0,1660.6 L631.5,1660.8 L634.0,1660.9 L636.4,1660.9 L638.9,1660.9 L641.3,1660.8 L643.8,1660.6 L646.2,1660.4 L648.7,1660.2 L651.1,1659.9 L653.5,1659.5 L655.9,1659.1 L658.3,1658.7 L660.7,1658.2 L663.1,1657.7 L665.5,1657.1 L667.9,1656.6 L670.3,1655.9 L672.7,1655.3 L675.1,1654.6 L677.4,1653.9 L679.8,1653.1 L682.2,1652.4 L684.5,1651.6 L686.9,1650.8 L689.3,1650.0 L691.6,1649.2 L694.0,1648.3 L696.4,1647.4 L698.7,1646.6 L701.1,1645.7 L703.4,1644.8 L705.8,1643.9 L708.1,1643.1 L710.5,1642.2 L712.8,1641.3 L715.2,1640.4 L717.6,1639.6 L719.9,1638.7 L722.3,1637.9 L724.6,1637.0 L727.0,1636.2 L729.4,1635.4 L731.7,1634.6 L734.1,1633.8 L736.5,1633.1 L738.9,1632.4 L741.3,1631.7 L743.6,1631.0 L746.0,1630.4 L748.4,1629.8 L750.8,1629.3 L753.2,1628.7 L755.6,1628.3 L758.1,1627.8 L760.5,1627.4 L762.9,1627.0 L765.3,1626.7 L767.8,1626.4 L770.2,1626.1 L772.6,1625.9 L775.1,1625.7 L777.5,1625.5 L780.0,1625.3 L782.4,1625.2 L784.9,1625.1 L787.4,1625.1 L789.8,1625.0 L792.3,1625.0 L794.8,1625.0 L797.3,1625.0 L799.7,1625.1 L802.2,1625.1 L804.7,1625.2 L807.2,1625.3 L809.7,1625.4 L812.2,1625.6 L814.7,1625.7 L817.2,1625.9 L819.7,1626.1 L822.2,1626.2 L824.7,1626.4 L827.2,1626.7 L829.7,1626.9 L832.2,1627.1 L834.8,1627.3 L837.3,1627.5 L839.8,1627.8 L842.3,1628.0 L844.8,1628.3 L847.4,1628.5 L849.9,1628.8 L852.4,1629.0 L854.9,1629.3 L857.4,1629.5 L860.0,1629.7 L862.5,1630.0 L865.0,1630.2 L867.6,1630.4 L870.1,1630.6 L872.6,1630.8 L875.1,1631.0 L877.7,1631.2 L880.2,1631.4 L882.7,1631.5 L885.2,1631.7 L887.8,1631.8 L890.3,1632.0 L892.8,1632.1 L895.3,1632.3 L897.9,1632.4 L900.4,1632.5 L902.9,1632.7 L905.4,1632.8 L907.9,1632.9 L910.4,1633.0 L913.0,1633.2 L915.5,1633.3 L918.0,1633.4 L920.5,1633.6 L923.0,1633.7 L925.5,1633.8 L928.0,1634.0 L930.5,1634.1 L933.0,1634.3 L935.5,1634.4 L938.0,1634.6 L940.5,1634.8 L942.9,1635.0 L945.4,1635.2 L947.9,1635.4 L950.4,1635.6 L952.8,1635.9 L955.3,1636.1 L957.8,1636.4 L960.2,1636.6 L962.7,1636.9 L965.1,1637.2 L967.6,1637.6 L970.0,1637.9 L972.4,1638.3 L974.9,1638.6 L977.3,1639.0 L979.7,1639.5 L982.1,1639.9 L984.6,1640.4 L987.0,1640.8 L989.4,1641.3 L991.8,1641.9 L994.2,1642.4 L996.5,1643.0 L998.9,1643.6 L1001.3,1644.2 L1003.7,1644.9 L1006.0,1645.6 L1008.4,1646.3 L1010.7,1647.0 L1013.1,1647.8 L1015.4,1648.6 L1017.7,1649.4 L1020.0,1650.3 L1022.4,1651.2 L1024.7,1652.1 L1027.0,1653.0 L1029.2,1654.0 L1031.5,1655.0 L1033.8,1656.0 L1036.1,1657.1 L1038.3,1658.1 L1040.6,1659.2 L1042.8,1660.4 L1045.0,1661.5 L1047.2,1662.7 L1049.4,1663.9 L1051.6,1665.1 L1053.8,1666.4 L1056.0,1667.6 L1058.1,1668.9 L1060.3,1670.2 L1062.4,1671.6 L1064.5,1672.9 L1066.6,1674.3 L1068.7,1675.7 L1070.8,1677.1 L1072.9,1678.6 L1074.9,1680.1 L1077.0,1681.6 L1079.0,1683.1 L1081.0,1684.6 L1083.0,1686.1 L1085.0,1687.7 L1087.0,1689.3 L1088.9,1690.9 L1090.9,1692.5 L1092.8,1694.2 L1094.7,1695.8 L1096.6,1697.5 L1098.4,1699.2 L1100.3,1700.9 L1102.1,1702.7 L1104.0,1704.4 L1105.8,1706.2 L1107.6,1708.0 L1109.3,1709.7 L1111.1,1711.6 L1112.8,1713.4 L1114.5,1715.2 L1116.2,1717.1 L1117.9,1719.0 L1119.6,1720.8 L1121.2,1722.7 L1122.8,1724.7 L1124.4,1726.6 L1126.0,1728.5 L1127.5,1730.5 L1129.1,1732.4 L1130.6,1734.4 L1132.1,1736.4 L1133.6,1738.4 L1135.0,1740.4 L1136.5,1742.4 L1137.9,1744.5 L1139.3,1746.5 L1140.7,1748.6 L1142.1,1750.6 L1143.4,1752.7 L1144.7,1754.8 L1146.1,1756.9 L1147.4,1759.0 L1148.7,1761.1 L1149.9,1763.2 L1151.2,1765.4 L1152.4,1767.5 L1153.7,1769.7 L1154.9,1771.8 L1156.1,1774.0 L1157.2,1776.2 L1158.4,1778.4 L1159.6,1780.6 L1160.7,1782.8 L1161.8,1785.0 L1163.0,1787.2 L1164.1,1789.4 L1165.2,1791.6 L1166.2,1793.9 L1167.3,1796.1 L1168.4,1798.3 L1169.4,1800.6 L1170.5,1802.9 L1171.5,1805.1 L1172.5,1807.4 L1173.5,1809.7 L1174.5,1811.9 L1175.5,1814.2 L1176.5,1816.5 L1177.4,1818.8 L1178.4,1821.1 L1179.4,1823.4 L1180.3,1825.7 L1181.3,1828.0 L1182.2,1830.3 L1183.1,1832.6 L1184.0,1835.0 L1185.0,1837.3 L1185.9,1839.6 L1186.8,1841.9 L1187.7,1844.2 L1188.5,1846.6 L1189.4,1848.9 L1190.3,1851.2 L1191.2,1853.6 L1192.1,1855.9 L1192.9,1858.2 L1193.8,1860.6 L1194.7,1862.9 L1195.6,1865.2 L1196.4,1867.6 L1197.3,1869.9 L1198.2,1872.2 L1199.0,1874.6 L1199.9,1876.9 L1200.7,1879.3 L1201.6,1881.6 L1202.5,1884.0 L1203.4,1886.3 L1204.2,1888.6 L1205.1,1891.0 L1206.0,1893.3 L1206.9,1895.7 L1207.8,1898.0 L1208.6,1900.3 L1209.5,1902.7 L1210.4,1905.0 L1211.3,1907.3 L1212.3,1909.7 L1213.2,1912.0 L1214.1,1914.3 L1215.0,1916.7 L1216.0,1919.0 L1216.9,1921.3 L1217.9,1923.6 L1218.8,1926.0 L1219.8,1928.3 L1220.8,1930.6 L1221.8,1932.9 L1222.8,1935.2 L1223.8,1937.5 L1224.8,1939.8 L1225.9,1942.1 L1227.0,1944.4 L1228.0,1946.7 L1229.1,1949.0 L1230.3,1951.3 L1231.4,1953.5 L1232.6,1955.8 L1233.8,1958.0 L1235.0,1960.2 L1236.3,1962.4 L1237.6,1964.6 L1238.9,1966.7 L1240.3,1968.9 L1241.7,1971.0 L1243.2,1973.1 L1244.7,1975.2 L1246.3,1977.2 L1247.9,1979.3 L1249.5,1981.3 L1251.2,1983.2 L1253.0,1985.2 L1254.8,1987.0 L1256.7,1988.6 L1258.6,1990.1 L1260.5,1991.3 L1262.5,1992.3 L1264.6,1992.9 L1266.7,1993.1 L1268.8,1993.0 L1271.0,1992.5 L1273.2,1991.8 L1275.4,1990.8 L1277.6,1989.6 L1279.7,1988.1 L1281.9,1986.6 L1284.0,1984.8 L1286.1,1983.0 L1288.2,1981.1 L1290.1,1979.2 L1292.1,1977.2 L1294.0,1975.2 L1295.8,1973.1 L1297.6,1971.0 L1299.4,1969.0 L1301.0,1966.9 L1302.7,1964.9 L1304.3,1962.8 L1305.8,1960.8 L1307.3,1958.8 L1308.8,1956.7 L1310.2,1954.7 L1311.6,1952.7 L1313.0,1950.7 L1314.3,1948.6 L1315.6,1946.6 L1316.8,1944.6 L1318.0,1942.5 L1319.2,1940.4 L1320.4,1938.3 L1321.5,1936.2 L1322.6,1934.1 L1323.7,1932.0 L1324.8,1929.8 L1325.9,1927.6 L1326.9,1925.4 L1327.9,1923.2 L1329.0,1920.9 L1329.9,1918.7 L1330.9,1916.4 L1331.9,1914.1 L1332.8,1911.8 L1333.7,1909.4 L1334.6,1907.1 L1335.5,1904.7 L1336.3,1902.4 L1337.2,1900.0 L1338.0,1897.6 L1338.9,1895.2 L1339.7,1892.8 L1340.4,1890.4 L1341.2,1888.0 L1342.0,1885.5 L1342.7,1883.1 L1343.5,1880.7 L1344.2,1878.2 L1344.9,1875.8 L1345.6,1873.3 L1346.3,1870.9 L1346.9,1868.4 L1347.6,1866.0 L1348.2,1863.5 L1348.9,1861.1 L1349.5,1858.6 L1350.1,1856.2 L1350.7,1853.8 L1351.3,1851.3 L1351.9,1848.9 L1352.4,1846.5 L1353.0,1844.1 L1353.6,1841.6 L1354.1,1839.2 L1354.6,1836.9 L1355.2,1834.5 L1355.7,1832.1 L1356.2,1829.7 L1356.8,1827.3 L1357.3,1824.9 L1357.8,1822.6 L1358.3,1820.2 L1358.9,1817.8 L1359.4,1815.4 L1359.9,1813.1 L1360.5,1810.7 L1361.0,1808.3 L1361.6,1805.9 L1362.1,1803.6 L1362.7,1801.2 L1363.3,1798.8 L1363.9,1796.4 L1364.5,1794.0 L1365.1,1791.6 L1365.8,1789.2 L1366.4,1786.7 L1367.1,1784.3 L1367.8,1781.9 L1368.5,1779.4 L1369.3,1776.9 L1370.0,1774.5 L1370.8,1772.0 L1371.6,1769.5 L1372.5,1767.0 L1373.3,1764.6 L1374.2,1762.1 L1375.1,1759.7 L1376.1,1757.2 L1377.0,1754.8 L1378.0,1752.4 L1379.1,1750.0 L1380.1,1747.6 L1381.2,1745.3 L1382.4,1743.0 L1383.5,1740.7 L1384.7,1738.4 L1386.0,1736.2 L1387.3,1734.0 L1388.6,1731.9 L1389.9,1729.8 L1391.3,1727.8 L1392.8,1725.8 L1394.3,1723.9 L1395.8,1722.0 L1397.4,1720.2 L1399.0,1718.4 L1400.6,1716.7 L1402.3,1715.1 L1404.1,1713.5 L1405.9,1711.9 L1407.7,1710.5 L1409.5,1709.0 L1411.4,1707.6 L1413.4,1706.3 L1415.3,1705.0 L1417.3,1703.8 L1419.4,1702.6 L1421.4,1701.5 L1423.5,1700.4 L1425.7,1699.3 L1427.8,1698.3 L1430.0,1697.3 L1432.2,1696.4 L1434.4,1695.4 L1436.7,1694.6 L1439.0,1693.7 L1441.3,1692.9 L1443.6,1692.1 L1446.0,1691.4 L1448.3,1690.7 L1450.7,1690.0 L1453.1,1689.3 L1455.5,1688.7 L1458.0,1688.0 L1460.4,1687.4 L1462.9,1686.9 L1465.3,1686.3 L1467.8,1685.8 L1470.3,1685.2 L1472.8,1684.7 L1475.3,1684.2 L1477.8,1683.7 L1480.3,1683.2 L1482.8,1682.8 L1485.4,1682.3 L1487.9,1681.9 L1490.4,1681.4 L1492.9,1681.0 L1495.5,1680.5 L1498.0,1680.1 L1500.5,1679.6 L1503.0,1679.2 L1505.6,1678.8 L1508.1,1678.3 L1510.6,1677.9 L1513.1,1677.5 L1515.6,1677.0 L1518.1,1676.6 L1520.6,1676.2 L1523.2,1675.8 L1525.7,1675.4 L1528.2,1674.9 L1530.7,1674.5 L1533.2,1674.1 L1535.7,1673.7 L1538.2,1673.3 L1540.7,1672.9 L1543.2,1672.5 L1545.7,1672.1 L1548.2,1671.7 L1550.7,1671.3 L1553.2,1670.9 L1555.7,1670.5 L1558.1,1670.1 L1560.6,1669.7 L1563.1,1669.3 L1565.6,1668.9 L1568.1,1668.5 L1570.6,1668.1 L1573.1,1667.8 L1575.6,1667.4 L1578.0,1667.0 L1580.5,1666.6 L1583.0,1666.2 L1585.5,1665.9 L1588.0,1665.5 L1590.4,1665.1 L1592.9,1664.8 L1595.4,1664.4 L1597.9,1664.0 L1600.4,1663.7 L1602.8,1663.3 L1605.3,1663.0 L1607.8,1662.6 L1610.3,1662.3 L1612.7,1661.9 L1615.2,1661.6 L1617.7,1661.2 L1620.1,1660.9 L1622.6,1660.5 L1625.1,1660.2 L1627.5,1659.9 L1630.0,1659.5 L1632.5,1659.2 L1634.9,1658.9 L1637.4,1658.5 L1639.9,1658.2 L1642.3,1657.9 L1644.8,1657.6 L1647.3,1657.2 L1649.7,1656.9 L1652.2,1656.6 L1654.7,1656.3 L1657.1,1656.0 L1659.6,1655.7 L1662.1,1655.4 L1664.5,1655.1 L1667.0,1654.8 L1669.4,1654.4 L1671.9,1654.1 L1674.4,1653.9 L1676.8,1653.6 L1679.3,1653.3 L1681.7,1653.0 L1684.2,1652.7 L1686.7,1652.4 L1689.1,1652.1 L1691.6,1651.8 L1694.0,1651.5 L1696.5,1651.3 L1699.0,1651.0 L1701.4,1650.7 L1703.9,1650.4 L1706.3,1650.2 L1708.8,1649.9 L1711.3,1649.6 L1713.7,1649.4 L1716.2,1649.1 L1718.6,1648.9 L1721.1,1648.6 L1723.6,1648.3 L1726.0,1648.1 L1728.5,1647.8 L1731.0,1647.6 L1733.4,1647.3 L1735.9,1647.1 L1738.3,1646.9 L1740.8,1646.6 L1743.3,1646.4 L1745.7,1646.2 L1748.2,1645.9 L1750.7,1645.7 L1753.1,1645.5 L1755.6,1645.2 L1758.1,1645.0 L1760.5,1644.8 L1763.0,1644.6 L1765.5,1644.3 L1767.9,1644.1 L1770.4,1643.9 L1772.9,1643.7 L1775.3,1643.5 L1777.8,1643.3 L1780.3,1643.1 L1782.8,1642.9 L1785.2,1642.7 L1787.7,1642.5 L1790.2,1642.3 L1792.7,1642.1 L1795.1,1641.9 L1797.6,1641.7 L1800.1,1641.5 L1802.6,1641.3 L1805.0,1641.2 L1807.5,1641.0 L1810.0,1640.8 L1812.5,1640.6 L1815.0,1640.5 L1817.5,1640.3 L1819.9,1640.1 L1822.4,1640.0 L1824.9,1639.8 L1827.4,1639.6 L1829.9,1639.5 L1832.4,1639.3 L1834.9,1639.2 L1837.4,1639.0 L1839.9,1638.8 L1842.4,1638.7 L1844.8,1638.6 L1847.3,1638.4 L1849.8,1638.3 L1852.3,1638.1 L1854.8,1638.0 L1857.3,1637.9 L1859.8,1637.7 L1862.4,1637.6 L1864.9,1637.5 L1867.4,1637.3 L1869.9,1637.2 L1872.4,1637.1 L1874.9,1637.0 L1877.4,1636.9 L1879.9,1636.8 L1882.4,1636.6 L1885.0,1636.5 L1887.5,1636.4 L1890.0,1636.3 L1892.5,1636.2 L1895.0,1636.1 L1897.6,1636.0 L1900.1,1635.9 L1902.6,1635.8 L1905.1,1635.7 L1907.7,1635.7 L1910.2,1635.6 L1912.7,1635.5 L1915.3,1635.4 L1917.8,1635.3 L1920.4,1635.2 L1922.9,1635.2 L1925.4,1635.1 L1928.0,1635.0 L1930.5,1635.0" stroke="#A5A5A5" clip-path="url(#c2)"/>
</g>
<g fill="#7F7F7F">
<line x1="414.6" y1="136.4" x2="565.4" y2="136.4" stroke="#1872C9" stroke-width="13" stroke-linecap="round"/>
<text x="596.6" y="156" font-size="71.3" text-anchor="start" textLength="127.8" lengthAdjust="spacingAndGlyphs">TG S</text>
<line x1="805.3" y1="136.4" x2="956.6" y2="136.4" stroke="#FE7E25" stroke-width="13" stroke-linecap="round"/>
<text x="988" y="156" font-size="71.3" text-anchor="start" textLength="160.2" lengthAdjust="spacingAndGlyphs">TG SS</text>
<line x1="1230.4" y1="136.4" x2="1380.7" y2="136.4" stroke="#A5A5A5" stroke-width="13" stroke-linecap="round"/>
<text x="1396.6" y="156" font-size="71.3" text-anchor="start" textLength="310.6" lengthAdjust="spacingAndGlyphs">TG SS-SiO2</text>
<line x1="360.6" y1="1465.4" x2="511.1" y2="1465.4" stroke="#1872C9" stroke-width="13" stroke-linecap="round"/>
<text x="527.8" y="1485.8" font-size="71.3" text-anchor="start" textLength="169.8" lengthAdjust="spacingAndGlyphs">DTG S</text>
<line x1="784.3" y1="1465.4" x2="934.6" y2="1465.4" stroke="#FE7E25" stroke-width="13" stroke-linecap="round"/>
<text x="952.2" y="1485.8" font-size="71.3" text-anchor="start" textLength="201.2" lengthAdjust="spacingAndGlyphs">DTG SS</text>
<line x1="1240.3" y1="1465.4" x2="1390.7" y2="1465.4" stroke="#A5A5A5" stroke-width="13" stroke-linecap="round"/>
<text x="1408.4" y="1485.8" font-size="71.3" text-anchor="start" textLength="352.4" lengthAdjust="spacingAndGlyphs">DTG SS-SiO2</text>
<text x="343.6" y="309.0" font-size="71.5" text-anchor="end" textLength="108.72" lengthAdjust="spacingAndGlyphs">100</text>
<text x="343.6" y="449.6" font-size="71.5" text-anchor="end" textLength="72.48" lengthAdjust="spacingAndGlyphs">80</text>
<text x="343.6" y="590.2" font-size="71.5" text-anchor="end" textLength="72.48" lengthAdjust="spacingAndGlyphs">60</text>
<text x="343.6" y="730.9" font-size="71.5" text-anchor="end" textLength="72.48" lengthAdjust="spacingAndGlyphs">40</text>
<text x="343.6" y="871.5" font-size="71.5" text-anchor="end" textLength="72.48" lengthAdjust="spacingAndGlyphs">20</text>
<text x="343.6" y="1012.1" font-size="71.5" text-anchor="end" textLength="36.24" lengthAdjust="spacingAndGlyphs">0</text>
<text x="409.5" y="1104.5" font-size="71.5" text-anchor="middle" textLength="36.24" lengthAdjust="spacingAndGlyphs">0</text>
<text x="664.0" y="1104.5" font-size="71.5" text-anchor="middle" textLength="108.72" lengthAdjust="spacingAndGlyphs">100</text>
<text x="918.5" y="1104.5" font-size="71.5" text-anchor="middle" textLength="108.72" lengthAdjust="spacingAndGlyphs">200</text>
<text x="1173.0" y="1104.5" font-size="71.5" text-anchor="middle" textLength="108.72" lengthAdjust="spacingAndGlyphs">300</text>
<text x="1427.5" y="1104.5" font-size="71.5" text-anchor="middle" textLength="108.72" lengthAdjust="spacingAndGlyphs">400</text>
<text x="1682.0" y="1104.5" font-size="71.5" text-anchor="middle" textLength="108.72" lengthAdjust="spacingAndGlyphs">500</text>
<text x="1936.5" y="1104.5" font-size="71.5" text-anchor="middle" textLength="108.72" lengthAdjust="spacingAndGlyphs">600</text>
<text x="418.5" y="1639.2" font-size="71.5" text-anchor="end" textLength="36.24" lengthAdjust="spacingAndGlyphs">0</text>
<text x="418.5" y="1779.8" font-size="71.5" text-anchor="end" textLength="184.89" lengthAdjust="spacingAndGlyphs">-0.002</text>
<text x="418.5" y="1920.4" font-size="71.5" text-anchor="end" textLength="184.89" lengthAdjust="spacingAndGlyphs">-0.004</text>
<text x="418.5" y="2060.9" font-size="71.5" text-anchor="end" textLength="184.89" lengthAdjust="spacingAndGlyphs">-0.006</text>
<text x="418.5" y="2201.5" font-size="71.5" text-anchor="end" textLength="184.89" lengthAdjust="spacingAndGlyphs">-0.008</text>
<text x="418.5" y="2342.1" font-size="71.5" text-anchor="end" textLength="148.66" lengthAdjust="spacingAndGlyphs">-0.01</text>
<text x="484.5" y="2434" font-size="71.5" text-anchor="middle" textLength="36.24" lengthAdjust="spacingAndGlyphs">0</text>
<text x="726.5" y="2434" font-size="71.5" text-anchor="middle" textLength="108.72" lengthAdjust="spacingAndGlyphs">100</text>
<text x="968.5" y="2434" font-size="71.5" text-anchor="middle" textLength="108.72" lengthAdjust="spacingAndGlyphs">200</text>
<text x="1210.5" y="2434" font-size="71.5" text-anchor="middle" textLength="108.72" lengthAdjust="spacingAndGlyphs">300</text>
<text x="1452.5" y="2434" font-size="71.5" text-anchor="middle" textLength="108.72" lengthAdjust="spacingAndGlyphs">400</text>
<text x="1694.5" y="2434" font-size="71.5" text-anchor="middle" textLength="108.72" lengthAdjust="spacingAndGlyphs">500</text>
<text x="1936.5" y="2434" font-size="71.5" text-anchor="middle" textLength="108.72" lengthAdjust="spacingAndGlyphs">600</text>
<text x="888.8" y="1224.8" font-size="77.5" text-anchor="start" textLength="568.4" lengthAdjust="spacingAndGlyphs">Temperature [°C]</text>
<text x="908.4" y="2627.5" font-size="77.5" text-anchor="start" textLength="567.8" lengthAdjust="spacingAndGlyphs">Temperature [°C]</text>
<text transform="translate(192,744) rotate(-90)" x="0" y="0" font-size="77.5" textLength="208" lengthAdjust="spacingAndGlyphs">Δm[%]</text>
<text transform="translate(156.9,2321.8) rotate(-90)" x="0" y="0" font-size="77.5" textLength="394.2" lengthAdjust="spacingAndGlyphs">dm/dT[1/°C]</text>
</g>
</svg>
</body></html>
